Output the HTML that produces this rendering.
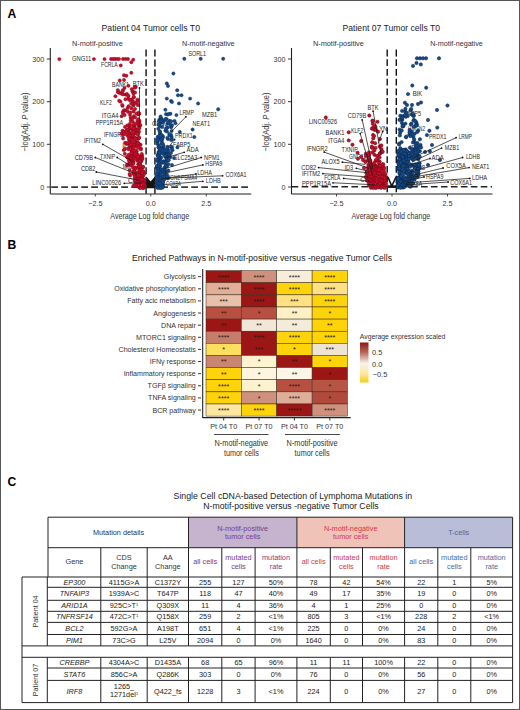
<!DOCTYPE html>
<html><head><meta charset="utf-8"><style>
html,body{margin:0;padding:0;background:#fff;}
svg{display:block;font-family:"Liberation Sans", sans-serif;}
</style></head><body>
<svg width="520" height="710" viewBox="0 0 520 710">
<rect x="0" y="0" width="520" height="710" fill="#fff"/>
<rect x="0.5" y="0.5" width="519" height="709" fill="none" stroke="#555" stroke-width="1" />
<text x="7.5" y="17.5" font-size="12.2" text-anchor="start" fill="#000" font-weight="bold" font-style="normal" >A</text>
<text x="7.5" y="248.5" font-size="12.2" text-anchor="start" fill="#000" font-weight="bold" font-style="normal" >B</text>
<text x="7.5" y="486.2" font-size="12.2" text-anchor="start" fill="#000" font-weight="bold" font-style="normal" >C</text>
<text x="150.75" y="30.6" font-size="8.8" text-anchor="middle" fill="#222" font-weight="normal" font-style="normal" textLength="98.5" lengthAdjust="spacingAndGlyphs" >Patient 04 Tumor cells T0</text>
<line x1="46.8" y1="59" x2="50.3" y2="59" stroke="#222" stroke-width="0.9" />
<text x="44.3" y="61.6" font-size="7.2" text-anchor="end" fill="#333" font-weight="normal" font-style="normal" >300</text>
<line x1="46.8" y1="101.7" x2="50.3" y2="101.7" stroke="#222" stroke-width="0.9" />
<text x="44.3" y="104.3" font-size="7.2" text-anchor="end" fill="#333" font-weight="normal" font-style="normal" >200</text>
<line x1="46.8" y1="144.3" x2="50.3" y2="144.3" stroke="#222" stroke-width="0.9" />
<text x="44.3" y="146.9" font-size="7.2" text-anchor="end" fill="#333" font-weight="normal" font-style="normal" >100</text>
<line x1="46.8" y1="187" x2="50.3" y2="187" stroke="#222" stroke-width="0.9" />
<text x="44.3" y="189.6" font-size="7.2" text-anchor="end" fill="#333" font-weight="normal" font-style="normal" >0</text>
<line x1="95.30000000000001" y1="194" x2="95.30000000000001" y2="196.5" stroke="#222" stroke-width="0.8" />
<text x="95.30000000000001" y="205.5" font-size="7.2" text-anchor="middle" fill="#333" font-weight="normal" font-style="normal" >−2.5</text>
<line x1="150.8" y1="194" x2="150.8" y2="196.5" stroke="#222" stroke-width="0.8" />
<text x="150.8" y="205.5" font-size="7.2" text-anchor="middle" fill="#333" font-weight="normal" font-style="normal" >0.0</text>
<line x1="206.3" y1="194" x2="206.3" y2="196.5" stroke="#222" stroke-width="0.8" />
<text x="206.3" y="205.5" font-size="7.2" text-anchor="middle" fill="#333" font-weight="normal" font-style="normal" >2.5</text>
<text x="149.70000000000002" y="219.2" font-size="9.8" text-anchor="middle" fill="#333" font-weight="normal" font-style="normal" textLength="78.8" lengthAdjust="spacingAndGlyphs" >Average Log fold change</text>
<text transform="translate(27.799999999999997,122) rotate(-90)" x="0" y="0" font-size="9.2" text-anchor="middle" fill="#333" textLength="59" lengthAdjust="spacingAndGlyphs">−log(Adj. <tspan font-style="italic">P</tspan> value)</text>
<text x="97.4" y="45.8" font-size="7.2" text-anchor="middle" fill="#333" font-weight="normal" font-style="normal" textLength="50.8" lengthAdjust="spacingAndGlyphs" >N-motif-positive</text>
<text x="208.3" y="45.8" font-size="7.2" text-anchor="middle" fill="#333" font-weight="normal" font-style="normal" textLength="52.6" lengthAdjust="spacingAndGlyphs" >N-motif-negative</text>
<line x1="146.1" y1="49.6" x2="146.1" y2="194" stroke="#3a3a3a" stroke-width="1.7" stroke-dasharray="7,2.8"/>
<line x1="154.9" y1="49.6" x2="154.9" y2="194" stroke="#3a3a3a" stroke-width="1.7" stroke-dasharray="7,2.8"/>
<line x1="51.2" y1="187.1" x2="251" y2="187.1" stroke="#3a3a3a" stroke-width="1.6" stroke-dasharray="6.8,3.2"/>
<text x="72.1" y="61.3" font-size="6.8" text-anchor="start" fill="#262626" font-weight="normal" font-style="normal" textLength="19.2" lengthAdjust="spacingAndGlyphs" >GNG11</text>
<text x="101" y="67.3" font-size="6.8" text-anchor="start" fill="#262626" font-weight="normal" font-style="normal" textLength="16.8" lengthAdjust="spacingAndGlyphs" >FCRLA</text>
<text x="112" y="87.2" font-size="6.8" text-anchor="start" fill="#262626" font-weight="normal" font-style="normal" textLength="17" lengthAdjust="spacingAndGlyphs" >BANK1</text>
<text x="132.7" y="85.6" font-size="6.8" text-anchor="start" fill="#262626" font-weight="normal" font-style="normal" textLength="11.1" lengthAdjust="spacingAndGlyphs" >BTK</text>
<text x="100.1" y="104.7" font-size="6.8" text-anchor="start" fill="#262626" font-weight="normal" font-style="normal" textLength="11.7" lengthAdjust="spacingAndGlyphs" >KLF2</text>
<text x="129" y="107" font-size="6.8" text-anchor="start" fill="#262626" font-weight="normal" font-style="normal" textLength="11" lengthAdjust="spacingAndGlyphs" >LYN</text>
<text x="101.7" y="117.8" font-size="6.8" text-anchor="start" fill="#262626" font-weight="normal" font-style="normal" textLength="16.8" lengthAdjust="spacingAndGlyphs" >ITGA4</text>
<text x="95.7" y="124.5" font-size="6.8" text-anchor="start" fill="#262626" font-weight="normal" font-style="normal" textLength="27.3" lengthAdjust="spacingAndGlyphs" >PPP1R15A</text>
<text x="104.1" y="137" font-size="6.8" text-anchor="start" fill="#262626" font-weight="normal" font-style="normal" textLength="20.2" lengthAdjust="spacingAndGlyphs" >IFNGR2</text>
<text x="84" y="142.8" font-size="6.8" text-anchor="start" fill="#262626" font-weight="normal" font-style="normal" textLength="17" lengthAdjust="spacingAndGlyphs" >IFITM2</text>
<text x="122.2" y="148.3" font-size="6.8" text-anchor="start" fill="#262626" font-weight="normal" font-style="normal" textLength="10.8" lengthAdjust="spacingAndGlyphs" >ID3</text>
<text x="74.8" y="159.5" font-size="6.8" text-anchor="start" fill="#262626" font-weight="normal" font-style="normal" textLength="18.2" lengthAdjust="spacingAndGlyphs" >CD79B</text>
<text x="100.1" y="158.6" font-size="6.8" text-anchor="start" fill="#262626" font-weight="normal" font-style="normal" textLength="15.1" lengthAdjust="spacingAndGlyphs" >TXNIP</text>
<text x="122.7" y="168.9" font-size="6.8" text-anchor="start" fill="#262626" font-weight="normal" font-style="normal" textLength="11.3" lengthAdjust="spacingAndGlyphs" >MX1</text>
<text x="80.9" y="171.2" font-size="6.8" text-anchor="start" fill="#262626" font-weight="normal" font-style="normal" textLength="14.4" lengthAdjust="spacingAndGlyphs" >CD82</text>
<text x="92.3" y="185.1" font-size="6.8" text-anchor="start" fill="#262626" font-weight="normal" font-style="normal" textLength="28.9" lengthAdjust="spacingAndGlyphs" >LINC00926</text>
<text x="128" y="183" font-size="6.8" text-anchor="start" fill="#262626" font-weight="normal" font-style="normal" textLength="17" lengthAdjust="spacingAndGlyphs" >CD52</text>
<text x="188.5" y="55.5" font-size="6.8" text-anchor="start" fill="#262626" font-weight="normal" font-style="normal" textLength="17.5" lengthAdjust="spacingAndGlyphs" >SORL1</text>
<text x="179.5" y="115.1" font-size="6.8" text-anchor="start" fill="#262626" font-weight="normal" font-style="normal" textLength="14.4" lengthAdjust="spacingAndGlyphs" >LRMP</text>
<text x="202" y="117.4" font-size="6.8" text-anchor="start" fill="#262626" font-weight="normal" font-style="normal" textLength="15.2" lengthAdjust="spacingAndGlyphs" >MZB1</text>
<text x="192.6" y="125.9" font-size="6.8" text-anchor="start" fill="#262626" font-weight="normal" font-style="normal" textLength="17.5" lengthAdjust="spacingAndGlyphs" >NEAT1</text>
<text x="152" y="125.5" font-size="6.8" text-anchor="start" fill="#262626" font-weight="normal" font-style="normal" textLength="16" lengthAdjust="spacingAndGlyphs" >CD52</text>
<text x="175.1" y="138.4" font-size="6.8" text-anchor="start" fill="#262626" font-weight="normal" font-style="normal" textLength="17.5" lengthAdjust="spacingAndGlyphs" >PRDX1</text>
<text x="173.1" y="146.7" font-size="6.8" text-anchor="start" fill="#262626" font-weight="normal" font-style="normal" textLength="17.2" lengthAdjust="spacingAndGlyphs" >FABP5</text>
<text x="186.5" y="152.4" font-size="6.8" text-anchor="start" fill="#262626" font-weight="normal" font-style="normal" textLength="12.1" lengthAdjust="spacingAndGlyphs" >ADA</text>
<text x="173.8" y="160.2" font-size="6.8" text-anchor="start" fill="#262626" font-weight="normal" font-style="normal" textLength="23.4" lengthAdjust="spacingAndGlyphs" >SLC25A3</text>
<text x="204.1" y="159.7" font-size="6.8" text-anchor="start" fill="#262626" font-weight="normal" font-style="normal" textLength="15.6" lengthAdjust="spacingAndGlyphs" >NPM1</text>
<text x="205.3" y="166.1" font-size="6.8" text-anchor="start" fill="#262626" font-weight="normal" font-style="normal" textLength="17.0" lengthAdjust="spacingAndGlyphs" >HSPA9</text>
<text x="197.2" y="175.3" font-size="6.8" text-anchor="start" fill="#262626" font-weight="normal" font-style="normal" textLength="14.7" lengthAdjust="spacingAndGlyphs" >LDHA</text>
<text x="225.4" y="176.5" font-size="6.8" text-anchor="start" fill="#262626" font-weight="normal" font-style="normal" textLength="21.1" lengthAdjust="spacingAndGlyphs" >COX6A1</text>
<text x="205.8" y="183.1" font-size="6.8" text-anchor="start" fill="#262626" font-weight="normal" font-style="normal" textLength="14.8" lengthAdjust="spacingAndGlyphs" >LDHB</text>
<text x="163" y="180" font-size="6.8" text-anchor="start" fill="#262626" font-weight="normal" font-style="normal" textLength="17" lengthAdjust="spacingAndGlyphs" >HMGN2</text>
<text x="181" y="180" font-size="6.8" text-anchor="start" fill="#262626" font-weight="normal" font-style="normal" textLength="16.2" lengthAdjust="spacingAndGlyphs" >PSMA4</text>
<text x="166" y="185.5" font-size="6.8" text-anchor="start" fill="#262626" font-weight="normal" font-style="normal" textLength="14.8" lengthAdjust="spacingAndGlyphs" >COX8A</text>
<g fill="#c80e28" stroke="#6a0a18" stroke-width="0.4" stroke-opacity="0.8"><circle cx="138.2" cy="114.4" r="1.70"/><circle cx="137.5" cy="100.7" r="1.70"/><circle cx="133.5" cy="105.5" r="1.70"/><circle cx="132.9" cy="125.6" r="1.70"/><circle cx="134.4" cy="126.4" r="1.70"/><circle cx="139.9" cy="125.1" r="1.70"/><circle cx="124.0" cy="110.2" r="1.70"/><circle cx="137.8" cy="122.8" r="1.70"/><circle cx="120.4" cy="101.6" r="1.70"/><circle cx="132.7" cy="103.8" r="1.70"/><circle cx="135.8" cy="87.0" r="1.70"/><circle cx="133.1" cy="91.9" r="1.70"/><circle cx="139.3" cy="121.9" r="1.70"/><circle cx="124.6" cy="115.0" r="1.70"/><circle cx="130.7" cy="120.4" r="1.70"/><circle cx="132.9" cy="101.2" r="1.70"/><circle cx="138.1" cy="105.0" r="1.70"/><circle cx="138.3" cy="125.5" r="1.70"/><circle cx="131.6" cy="99.4" r="1.70"/><circle cx="130.0" cy="114.8" r="1.70"/><circle cx="135.1" cy="109.0" r="1.70"/><circle cx="125.3" cy="94.6" r="1.70"/><circle cx="130.6" cy="117.7" r="1.70"/><circle cx="122.5" cy="105.9" r="1.70"/><circle cx="133.9" cy="97.4" r="1.70"/><circle cx="134.9" cy="86.8" r="1.70"/><circle cx="125.7" cy="110.4" r="1.70"/><circle cx="132.8" cy="121.6" r="1.70"/><circle cx="129.5" cy="126.4" r="1.70"/><circle cx="128.2" cy="95.9" r="1.70"/><circle cx="132.5" cy="91.2" r="1.70"/><circle cx="128.2" cy="98.8" r="1.70"/><circle cx="131.5" cy="103.6" r="1.70"/><circle cx="119.3" cy="92.7" r="1.70"/><circle cx="127.6" cy="108.1" r="1.70"/><circle cx="128.7" cy="125.5" r="1.70"/><circle cx="119.2" cy="100.8" r="1.70"/><circle cx="133.4" cy="93.5" r="1.70"/><circle cx="127.8" cy="111.8" r="1.70"/><circle cx="133.9" cy="127.1" r="1.70"/><circle cx="139.3" cy="120.9" r="1.70"/><circle cx="127.2" cy="125.5" r="1.70"/><circle cx="137.4" cy="122.6" r="1.70"/><circle cx="123.0" cy="111.6" r="1.70"/><circle cx="133.9" cy="124.6" r="1.70"/><circle cx="122.2" cy="104.9" r="1.70"/><circle cx="121.4" cy="93.6" r="1.70"/><circle cx="133.8" cy="116.3" r="1.70"/><circle cx="122.8" cy="112.9" r="1.70"/><circle cx="134.6" cy="87.8" r="1.70"/><circle cx="137.5" cy="120.6" r="1.70"/><circle cx="132.5" cy="118.2" r="1.70"/><circle cx="135.1" cy="103.3" r="1.70"/><circle cx="134.9" cy="127.8" r="1.70"/><circle cx="130.2" cy="112.5" r="1.70"/><circle cx="124.5" cy="88.0" r="1.70"/><circle cx="128.5" cy="106.3" r="1.70"/><circle cx="137.5" cy="99.6" r="1.70"/><circle cx="122.8" cy="90.2" r="1.70"/><circle cx="122.6" cy="91.3" r="1.70"/><circle cx="133.5" cy="111.5" r="1.70"/><circle cx="130.0" cy="123.7" r="1.70"/><circle cx="140.2" cy="125.4" r="1.70"/><circle cx="138.5" cy="119.2" r="1.70"/><circle cx="139.4" cy="113.7" r="1.70"/><circle cx="139.4" cy="128.0" r="1.70"/><circle cx="135.5" cy="123.7" r="1.70"/><circle cx="124.9" cy="126.9" r="1.70"/><circle cx="136.7" cy="102.2" r="1.70"/><circle cx="135.2" cy="117.4" r="1.70"/><circle cx="138.4" cy="112.7" r="1.70"/><circle cx="118.1" cy="92.3" r="1.70"/><circle cx="131.5" cy="108.4" r="1.70"/><circle cx="139.7" cy="124.4" r="1.70"/><circle cx="136.3" cy="113.6" r="1.70"/><circle cx="138.7" cy="138.3" r="1.70"/><circle cx="138.0" cy="186.6" r="1.70"/><circle cx="141.0" cy="156.3" r="1.70"/><circle cx="141.9" cy="155.4" r="1.70"/><circle cx="131.2" cy="156.3" r="1.70"/><circle cx="132.6" cy="136.2" r="1.70"/><circle cx="140.9" cy="172.3" r="1.70"/><circle cx="137.7" cy="178.0" r="1.70"/><circle cx="133.8" cy="156.0" r="1.70"/><circle cx="141.6" cy="168.2" r="1.70"/><circle cx="129.1" cy="139.3" r="1.70"/><circle cx="131.3" cy="136.8" r="1.70"/><circle cx="132.3" cy="138.9" r="1.70"/><circle cx="139.7" cy="174.4" r="1.70"/><circle cx="143.0" cy="166.7" r="1.70"/><circle cx="143.7" cy="186.3" r="1.70"/><circle cx="137.5" cy="172.4" r="1.70"/><circle cx="135.3" cy="130.6" r="1.70"/><circle cx="128.5" cy="131.8" r="1.70"/><circle cx="136.2" cy="130.7" r="1.70"/><circle cx="142.6" cy="174.8" r="1.70"/><circle cx="143.0" cy="176.2" r="1.70"/><circle cx="131.4" cy="150.6" r="1.70"/><circle cx="135.3" cy="137.6" r="1.70"/><circle cx="132.6" cy="148.8" r="1.70"/><circle cx="139.8" cy="182.9" r="1.70"/><circle cx="131.3" cy="133.4" r="1.70"/><circle cx="135.9" cy="143.0" r="1.70"/><circle cx="137.3" cy="177.3" r="1.70"/><circle cx="135.5" cy="168.0" r="1.70"/><circle cx="135.8" cy="129.7" r="1.70"/><circle cx="133.0" cy="163.9" r="1.70"/><circle cx="139.3" cy="144.5" r="1.70"/><circle cx="144.0" cy="180.4" r="1.70"/><circle cx="131.0" cy="133.7" r="1.70"/><circle cx="137.3" cy="179.2" r="1.70"/><circle cx="132.6" cy="129.2" r="1.70"/><circle cx="138.2" cy="167.0" r="1.70"/><circle cx="145.0" cy="180.1" r="1.70"/><circle cx="132.8" cy="129.7" r="1.70"/><circle cx="131.8" cy="156.4" r="1.70"/><circle cx="133.5" cy="162.0" r="1.70"/><circle cx="138.2" cy="138.4" r="1.70"/><circle cx="141.7" cy="172.9" r="1.70"/><circle cx="138.9" cy="173.6" r="1.70"/><circle cx="140.4" cy="172.4" r="1.70"/><circle cx="136.6" cy="180.1" r="1.70"/><circle cx="139.1" cy="166.8" r="1.70"/><circle cx="131.7" cy="153.0" r="1.70"/><circle cx="133.1" cy="162.8" r="1.70"/><circle cx="137.1" cy="157.9" r="1.70"/><circle cx="142.1" cy="156.6" r="1.70"/><circle cx="141.2" cy="161.6" r="1.70"/><circle cx="139.7" cy="187.8" r="1.70"/><circle cx="140.7" cy="177.7" r="1.70"/><circle cx="135.1" cy="144.5" r="1.70"/><circle cx="138.7" cy="168.4" r="1.70"/><circle cx="133.6" cy="154.7" r="1.70"/><circle cx="140.6" cy="181.6" r="1.70"/><circle cx="141.9" cy="173.1" r="1.70"/><circle cx="135.3" cy="141.7" r="1.70"/><circle cx="133.8" cy="154.3" r="1.70"/><circle cx="135.5" cy="133.3" r="1.70"/><circle cx="136.6" cy="151.2" r="1.70"/><circle cx="135.1" cy="157.3" r="1.70"/><circle cx="137.5" cy="160.9" r="1.70"/><circle cx="132.2" cy="159.3" r="1.70"/><circle cx="131.3" cy="146.0" r="1.70"/><circle cx="137.4" cy="131.5" r="1.70"/><circle cx="131.4" cy="154.4" r="1.70"/><circle cx="138.9" cy="137.6" r="1.70"/><circle cx="141.5" cy="180.7" r="1.70"/><circle cx="143.7" cy="183.6" r="1.70"/><circle cx="139.9" cy="183.6" r="1.70"/><circle cx="130.4" cy="141.0" r="1.70"/><circle cx="138.4" cy="178.7" r="1.70"/><circle cx="140.2" cy="148.4" r="1.70"/><circle cx="129.0" cy="135.0" r="1.70"/><circle cx="135.0" cy="174.8" r="1.70"/><circle cx="138.4" cy="164.1" r="1.70"/><circle cx="130.3" cy="128.6" r="1.70"/><circle cx="141.3" cy="178.3" r="1.70"/><circle cx="139.2" cy="157.1" r="1.70"/><circle cx="142.0" cy="176.3" r="1.70"/><circle cx="140.6" cy="144.7" r="1.70"/><circle cx="137.8" cy="154.8" r="1.70"/><circle cx="143.4" cy="186.9" r="1.70"/><circle cx="136.4" cy="150.6" r="1.70"/><circle cx="136.9" cy="184.1" r="1.70"/><circle cx="129.4" cy="140.7" r="1.70"/><circle cx="143.3" cy="181.7" r="1.70"/><circle cx="139.4" cy="185.6" r="1.70"/><circle cx="142.9" cy="171.8" r="1.70"/><circle cx="133.2" cy="162.7" r="1.70"/><circle cx="137.8" cy="138.9" r="1.70"/><circle cx="136.2" cy="179.0" r="1.70"/><circle cx="134.5" cy="153.8" r="1.70"/><circle cx="144.9" cy="182.6" r="1.70"/><circle cx="136.9" cy="146.7" r="1.70"/><circle cx="137.3" cy="183.7" r="1.70"/><circle cx="132.7" cy="149.9" r="1.70"/><circle cx="137.9" cy="183.0" r="1.70"/><circle cx="138.1" cy="184.0" r="1.70"/><circle cx="139.6" cy="160.8" r="1.70"/><circle cx="131.7" cy="154.8" r="1.70"/><circle cx="142.9" cy="171.9" r="1.70"/><circle cx="140.1" cy="156.4" r="1.70"/><circle cx="144.1" cy="181.4" r="1.70"/><circle cx="144.1" cy="185.0" r="1.70"/><circle cx="141.0" cy="169.3" r="1.70"/><circle cx="137.8" cy="142.4" r="1.70"/><circle cx="140.9" cy="158.0" r="1.70"/><circle cx="143.1" cy="167.2" r="1.70"/><circle cx="143.9" cy="173.0" r="1.70"/><circle cx="135.1" cy="144.0" r="1.70"/><circle cx="140.5" cy="176.6" r="1.70"/><circle cx="138.9" cy="131.9" r="1.70"/><circle cx="135.9" cy="138.9" r="1.70"/><circle cx="133.4" cy="158.3" r="1.70"/><circle cx="138.3" cy="164.4" r="1.70"/><circle cx="129.9" cy="146.7" r="1.70"/><circle cx="135.0" cy="167.4" r="1.70"/><circle cx="134.3" cy="145.6" r="1.70"/><circle cx="139.9" cy="163.7" r="1.70"/><circle cx="144.6" cy="184.7" r="1.70"/><circle cx="139.3" cy="183.8" r="1.70"/><circle cx="142.8" cy="172.7" r="1.70"/><circle cx="138.1" cy="182.9" r="1.70"/><circle cx="132.9" cy="135.8" r="1.70"/><circle cx="141.8" cy="171.1" r="1.70"/><circle cx="139.6" cy="170.4" r="1.70"/><circle cx="141.2" cy="178.5" r="1.70"/><circle cx="134.4" cy="172.2" r="1.70"/><circle cx="134.0" cy="129.6" r="1.70"/><circle cx="134.6" cy="173.3" r="1.70"/><circle cx="140.5" cy="169.4" r="1.70"/><circle cx="143.1" cy="187.9" r="1.70"/><circle cx="137.6" cy="159.5" r="1.70"/><circle cx="140.1" cy="175.9" r="1.70"/><circle cx="143.9" cy="187.7" r="1.70"/><circle cx="142.2" cy="182.6" r="1.70"/><circle cx="145.3" cy="185.5" r="1.70"/><circle cx="141.7" cy="169.7" r="1.70"/><circle cx="136.5" cy="152.9" r="1.70"/><circle cx="133.7" cy="143.0" r="1.70"/><circle cx="131.1" cy="145.0" r="1.70"/><circle cx="140.2" cy="164.6" r="1.70"/><circle cx="138.4" cy="128.9" r="1.70"/><circle cx="134.1" cy="144.6" r="1.70"/><circle cx="138.8" cy="185.4" r="1.70"/><circle cx="133.4" cy="134.5" r="1.70"/><circle cx="131.9" cy="144.0" r="1.70"/><circle cx="140.6" cy="179.6" r="1.70"/><circle cx="133.3" cy="157.7" r="1.70"/><circle cx="131.2" cy="139.7" r="1.70"/><circle cx="131.9" cy="153.0" r="1.70"/><circle cx="133.7" cy="147.0" r="1.70"/><circle cx="144.0" cy="174.2" r="1.70"/><circle cx="142.2" cy="180.0" r="1.70"/><circle cx="137.8" cy="181.7" r="1.70"/><circle cx="135.5" cy="154.5" r="1.70"/><circle cx="134.3" cy="150.4" r="1.70"/><circle cx="142.4" cy="158.6" r="1.70"/><circle cx="132.2" cy="140.1" r="1.70"/><circle cx="137.0" cy="157.8" r="1.70"/><circle cx="140.8" cy="148.4" r="1.70"/><circle cx="138.4" cy="143.8" r="1.70"/><circle cx="143.5" cy="183.5" r="1.70"/><circle cx="139.0" cy="144.2" r="1.70"/><circle cx="129.7" cy="143.6" r="1.70"/><circle cx="138.8" cy="158.4" r="1.70"/><circle cx="135.4" cy="159.3" r="1.70"/><circle cx="134.1" cy="142.0" r="1.70"/><circle cx="140.9" cy="149.4" r="1.70"/><circle cx="143.0" cy="179.2" r="1.70"/><circle cx="137.8" cy="143.4" r="1.70"/><circle cx="141.8" cy="153.9" r="1.70"/><circle cx="143.5" cy="184.4" r="1.70"/><circle cx="133.8" cy="147.7" r="1.70"/><circle cx="138.5" cy="147.5" r="1.70"/><circle cx="137.8" cy="157.0" r="1.70"/><circle cx="141.7" cy="160.0" r="1.70"/><circle cx="138.1" cy="134.4" r="1.70"/><circle cx="129.0" cy="129.3" r="1.70"/><circle cx="142.4" cy="186.9" r="1.70"/><circle cx="129.3" cy="138.8" r="1.70"/><circle cx="140.4" cy="161.0" r="1.70"/><circle cx="135.2" cy="175.4" r="1.70"/><circle cx="139.2" cy="175.4" r="1.70"/><circle cx="140.5" cy="179.5" r="1.70"/><circle cx="138.6" cy="130.8" r="1.70"/><circle cx="135.0" cy="138.8" r="1.70"/><circle cx="132.4" cy="134.8" r="1.70"/><circle cx="135.5" cy="174.1" r="1.70"/><circle cx="142.3" cy="158.8" r="1.70"/><circle cx="142.3" cy="187.8" r="1.70"/><circle cx="140.0" cy="161.0" r="1.70"/><circle cx="142.3" cy="179.6" r="1.70"/><circle cx="135.2" cy="169.0" r="1.70"/><circle cx="140.2" cy="187.9" r="1.70"/><circle cx="139.0" cy="137.7" r="1.70"/><circle cx="132.1" cy="132.4" r="1.70"/><circle cx="137.2" cy="133.9" r="1.70"/><circle cx="139.7" cy="165.7" r="1.70"/><circle cx="133.4" cy="128.1" r="1.70"/><circle cx="139.4" cy="166.4" r="1.70"/><circle cx="143.5" cy="171.5" r="1.70"/><circle cx="137.9" cy="181.9" r="1.70"/><circle cx="134.4" cy="170.9" r="1.70"/><circle cx="141.9" cy="173.0" r="1.70"/><circle cx="130.7" cy="157.3" r="1.70"/><circle cx="127.2" cy="165.6" r="1.70"/><circle cx="123.1" cy="134.9" r="1.70"/><circle cx="123.7" cy="150.1" r="1.70"/><circle cx="124.9" cy="131.6" r="1.70"/><circle cx="130.1" cy="144.8" r="1.70"/><circle cx="126.9" cy="144.1" r="1.70"/><circle cx="125.2" cy="142.8" r="1.70"/><circle cx="133.9" cy="170.8" r="1.70"/><circle cx="128.4" cy="132.4" r="1.70"/><circle cx="130.0" cy="159.7" r="1.70"/><circle cx="129.6" cy="170.1" r="1.70"/><circle cx="127.0" cy="129.4" r="1.70"/><circle cx="128.5" cy="148.6" r="1.70"/><circle cx="128.7" cy="154.6" r="1.70"/><circle cx="134.9" cy="178.0" r="1.70"/><circle cx="130.1" cy="175.5" r="1.70"/><circle cx="130.6" cy="158.2" r="1.70"/><circle cx="121.5" cy="133.6" r="1.70"/><circle cx="131.7" cy="161.0" r="1.70"/><circle cx="134.9" cy="176.5" r="1.70"/><circle cx="133.1" cy="167.5" r="1.70"/><circle cx="133.3" cy="173.7" r="1.70"/><circle cx="124.8" cy="153.8" r="1.70"/><circle cx="127.1" cy="143.0" r="1.70"/><circle cx="129.5" cy="163.2" r="1.70"/><circle cx="131.1" cy="165.4" r="1.70"/><circle cx="135.7" cy="184.3" r="1.70"/><circle cx="128.2" cy="129.9" r="1.70"/><circle cx="127.6" cy="157.8" r="1.70"/><circle cx="128.0" cy="136.2" r="1.70"/><circle cx="132.9" cy="171.7" r="1.70"/><circle cx="130.2" cy="164.0" r="1.70"/><circle cx="122.5" cy="130.8" r="1.70"/><circle cx="129.5" cy="135.6" r="1.70"/><circle cx="133.9" cy="186.1" r="1.70"/><circle cx="125.8" cy="134.3" r="1.70"/><circle cx="131.4" cy="152.8" r="1.70"/><circle cx="127.1" cy="164.5" r="1.70"/><circle cx="123.1" cy="138.5" r="1.70"/><circle cx="127.2" cy="129.7" r="1.70"/><circle cx="135.7" cy="181.5" r="1.70"/><circle cx="127.0" cy="156.7" r="1.70"/><circle cx="123.5" cy="131.5" r="1.70"/><circle cx="124.8" cy="149.2" r="1.70"/><circle cx="128.8" cy="160.6" r="1.70"/><circle cx="133.5" cy="185.6" r="1.70"/><circle cx="129.6" cy="174.0" r="1.70"/><circle cx="128.5" cy="149.3" r="1.70"/><circle cx="134.9" cy="180.3" r="1.70"/><circle cx="59.3" cy="59.1" r="1.70"/><circle cx="93.9" cy="59.1" r="1.70"/><circle cx="104.5" cy="59.1" r="1.70"/><circle cx="111.0" cy="59.0" r="1.70"/><circle cx="113.0" cy="59.0" r="1.70"/><circle cx="115.0" cy="59.0" r="1.70"/><circle cx="117.0" cy="59.0" r="1.70"/><circle cx="119.0" cy="59.0" r="1.70"/><circle cx="123.0" cy="59.0" r="1.70"/><circle cx="125.5" cy="59.0" r="1.70"/><circle cx="128.0" cy="59.0" r="1.70"/><circle cx="133.2" cy="59.8" r="1.70"/><circle cx="131.3" cy="62.2" r="1.70"/><circle cx="120.7" cy="65.4" r="1.70"/><circle cx="131.3" cy="72.8" r="1.70"/><circle cx="124.0" cy="75.2" r="1.70"/><circle cx="126.4" cy="75.7" r="1.70"/><circle cx="119.7" cy="80.5" r="1.70"/><circle cx="124.0" cy="80.0" r="1.70"/><circle cx="128.4" cy="85.8" r="1.70"/><circle cx="131.7" cy="89.1" r="1.70"/><circle cx="117.8" cy="90.1" r="1.70"/><circle cx="118.3" cy="92.0" r="1.70"/><circle cx="135.1" cy="92.5" r="1.70"/><circle cx="115.4" cy="96.3" r="1.70"/><circle cx="123.0" cy="94.4" r="1.70"/><circle cx="126.9" cy="94.0" r="1.70"/><circle cx="128.4" cy="95.9" r="1.70"/><circle cx="133.7" cy="96.8" r="1.70"/><circle cx="125.5" cy="99.2" r="1.70"/><circle cx="129.8" cy="100.2" r="1.70"/><circle cx="121.6" cy="116.2" r="1.70"/></g>
<g fill="#164a88" stroke="#0a2548" stroke-width="0.4" stroke-opacity="0.8"><circle cx="167.1" cy="127.8" r="1.70"/><circle cx="157.7" cy="142.0" r="1.70"/><circle cx="165.4" cy="130.8" r="1.70"/><circle cx="159.9" cy="134.5" r="1.70"/><circle cx="158.3" cy="128.8" r="1.70"/><circle cx="163.1" cy="136.9" r="1.70"/><circle cx="165.8" cy="119.1" r="1.70"/><circle cx="163.6" cy="121.1" r="1.70"/><circle cx="159.9" cy="138.7" r="1.70"/><circle cx="166.7" cy="119.1" r="1.70"/><circle cx="157.7" cy="136.7" r="1.70"/><circle cx="167.0" cy="131.5" r="1.70"/><circle cx="160.4" cy="133.7" r="1.70"/><circle cx="170.9" cy="127.0" r="1.70"/><circle cx="157.7" cy="138.9" r="1.70"/><circle cx="162.6" cy="135.9" r="1.70"/><circle cx="160.1" cy="126.6" r="1.70"/><circle cx="167.5" cy="123.5" r="1.70"/><circle cx="159.9" cy="131.4" r="1.70"/><circle cx="161.6" cy="118.8" r="1.70"/><circle cx="160.6" cy="122.9" r="1.70"/><circle cx="168.0" cy="139.0" r="1.70"/><circle cx="171.7" cy="137.0" r="1.70"/><circle cx="159.7" cy="131.6" r="1.70"/><circle cx="162.3" cy="139.0" r="1.70"/><circle cx="171.4" cy="127.0" r="1.70"/><circle cx="161.8" cy="141.0" r="1.70"/><circle cx="171.9" cy="139.3" r="1.70"/><circle cx="157.6" cy="141.2" r="1.70"/><circle cx="161.6" cy="143.4" r="1.70"/><circle cx="169.5" cy="120.7" r="1.70"/><circle cx="172.0" cy="125.2" r="1.70"/><circle cx="161.8" cy="119.8" r="1.70"/><circle cx="171.1" cy="140.0" r="1.70"/><circle cx="158.7" cy="124.8" r="1.70"/><circle cx="162.3" cy="127.1" r="1.70"/><circle cx="161.3" cy="134.9" r="1.70"/><circle cx="157.4" cy="140.4" r="1.70"/><circle cx="161.4" cy="137.4" r="1.70"/><circle cx="159.7" cy="119.2" r="1.70"/><circle cx="160.5" cy="119.0" r="1.70"/><circle cx="169.4" cy="135.4" r="1.70"/><circle cx="163.0" cy="122.8" r="1.70"/><circle cx="162.8" cy="143.7" r="1.70"/><circle cx="171.2" cy="134.9" r="1.70"/><circle cx="161.4" cy="139.8" r="1.70"/><circle cx="158.9" cy="120.8" r="1.70"/><circle cx="169.3" cy="133.9" r="1.70"/><circle cx="158.8" cy="124.3" r="1.70"/><circle cx="157.5" cy="144.1" r="1.70"/><circle cx="161.0" cy="120.2" r="1.70"/><circle cx="170.2" cy="124.8" r="1.70"/><circle cx="160.5" cy="135.8" r="1.70"/><circle cx="165.5" cy="119.1" r="1.70"/><circle cx="167.3" cy="137.9" r="1.70"/><circle cx="158.1" cy="174.4" r="1.70"/><circle cx="160.4" cy="187.8" r="1.70"/><circle cx="163.8" cy="148.6" r="1.70"/><circle cx="158.4" cy="147.4" r="1.70"/><circle cx="159.5" cy="177.9" r="1.70"/><circle cx="167.5" cy="146.9" r="1.70"/><circle cx="158.2" cy="171.4" r="1.70"/><circle cx="160.6" cy="169.5" r="1.70"/><circle cx="159.5" cy="148.1" r="1.70"/><circle cx="164.8" cy="153.5" r="1.70"/><circle cx="165.3" cy="152.6" r="1.70"/><circle cx="159.7" cy="161.9" r="1.70"/><circle cx="158.9" cy="174.3" r="1.70"/><circle cx="158.1" cy="154.4" r="1.70"/><circle cx="161.7" cy="179.5" r="1.70"/><circle cx="156.5" cy="177.4" r="1.70"/><circle cx="159.2" cy="186.5" r="1.70"/><circle cx="165.0" cy="174.0" r="1.70"/><circle cx="167.9" cy="150.0" r="1.70"/><circle cx="156.6" cy="176.6" r="1.70"/><circle cx="159.1" cy="183.9" r="1.70"/><circle cx="161.3" cy="157.5" r="1.70"/><circle cx="159.0" cy="177.9" r="1.70"/><circle cx="163.7" cy="161.3" r="1.70"/><circle cx="166.1" cy="155.8" r="1.70"/><circle cx="157.9" cy="159.4" r="1.70"/><circle cx="160.2" cy="151.8" r="1.70"/><circle cx="160.0" cy="163.6" r="1.70"/><circle cx="158.9" cy="156.3" r="1.70"/><circle cx="157.7" cy="177.4" r="1.70"/><circle cx="162.5" cy="181.4" r="1.70"/><circle cx="159.6" cy="163.1" r="1.70"/><circle cx="165.7" cy="171.0" r="1.70"/><circle cx="158.4" cy="166.2" r="1.70"/><circle cx="163.9" cy="153.2" r="1.70"/><circle cx="159.1" cy="145.4" r="1.70"/><circle cx="164.4" cy="167.6" r="1.70"/><circle cx="167.0" cy="151.9" r="1.70"/><circle cx="157.6" cy="186.3" r="1.70"/><circle cx="157.1" cy="182.9" r="1.70"/><circle cx="163.4" cy="146.2" r="1.70"/><circle cx="161.2" cy="148.0" r="1.70"/><circle cx="161.8" cy="150.8" r="1.70"/><circle cx="162.4" cy="176.8" r="1.70"/><circle cx="158.9" cy="147.3" r="1.70"/><circle cx="162.9" cy="162.4" r="1.70"/><circle cx="158.6" cy="178.6" r="1.70"/><circle cx="157.3" cy="181.9" r="1.70"/><circle cx="160.7" cy="177.0" r="1.70"/><circle cx="158.6" cy="160.0" r="1.70"/><circle cx="157.7" cy="187.5" r="1.70"/><circle cx="158.6" cy="158.8" r="1.70"/><circle cx="157.5" cy="174.6" r="1.70"/><circle cx="162.7" cy="153.8" r="1.70"/><circle cx="156.6" cy="185.3" r="1.70"/><circle cx="161.0" cy="171.0" r="1.70"/><circle cx="157.6" cy="160.5" r="1.70"/><circle cx="161.0" cy="181.0" r="1.70"/><circle cx="158.5" cy="170.4" r="1.70"/><circle cx="164.6" cy="174.8" r="1.70"/><circle cx="160.7" cy="174.6" r="1.70"/><circle cx="159.5" cy="172.6" r="1.70"/><circle cx="168.0" cy="150.8" r="1.70"/><circle cx="157.7" cy="172.4" r="1.70"/><circle cx="158.9" cy="156.7" r="1.70"/><circle cx="161.4" cy="187.7" r="1.70"/><circle cx="164.0" cy="169.8" r="1.70"/><circle cx="164.6" cy="170.5" r="1.70"/><circle cx="157.7" cy="168.2" r="1.70"/><circle cx="159.1" cy="187.4" r="1.70"/><circle cx="166.7" cy="160.5" r="1.70"/><circle cx="160.0" cy="184.2" r="1.70"/><circle cx="160.4" cy="172.1" r="1.70"/><circle cx="157.8" cy="181.7" r="1.70"/><circle cx="166.0" cy="165.6" r="1.70"/><circle cx="159.1" cy="183.3" r="1.70"/><circle cx="167.6" cy="153.4" r="1.70"/><circle cx="156.8" cy="179.5" r="1.70"/><circle cx="167.7" cy="147.4" r="1.70"/><circle cx="156.9" cy="167.2" r="1.70"/><circle cx="161.3" cy="148.2" r="1.70"/><circle cx="163.7" cy="149.1" r="1.70"/><circle cx="158.9" cy="152.5" r="1.70"/><circle cx="159.3" cy="154.2" r="1.70"/><circle cx="164.2" cy="170.6" r="1.70"/><circle cx="159.1" cy="152.3" r="1.70"/><circle cx="158.9" cy="178.6" r="1.70"/><circle cx="159.9" cy="165.7" r="1.70"/><circle cx="157.5" cy="182.7" r="1.70"/><circle cx="166.7" cy="156.8" r="1.70"/><circle cx="159.3" cy="186.2" r="1.70"/><circle cx="157.7" cy="155.4" r="1.70"/><circle cx="158.6" cy="152.0" r="1.70"/><circle cx="162.1" cy="162.2" r="1.70"/><circle cx="159.6" cy="161.0" r="1.70"/><circle cx="161.5" cy="169.9" r="1.70"/><circle cx="162.3" cy="169.7" r="1.70"/><circle cx="160.1" cy="168.8" r="1.70"/><circle cx="159.6" cy="187.0" r="1.70"/><circle cx="158.4" cy="167.0" r="1.70"/><circle cx="165.3" cy="155.2" r="1.70"/><circle cx="157.8" cy="168.3" r="1.70"/><circle cx="157.3" cy="167.7" r="1.70"/><circle cx="158.8" cy="182.5" r="1.70"/><circle cx="158.7" cy="184.1" r="1.70"/><circle cx="156.9" cy="166.1" r="1.70"/><circle cx="157.5" cy="160.6" r="1.70"/><circle cx="165.2" cy="156.5" r="1.70"/><circle cx="157.0" cy="166.0" r="1.70"/><circle cx="159.8" cy="166.3" r="1.70"/><circle cx="159.2" cy="147.1" r="1.70"/><circle cx="168.0" cy="151.1" r="1.70"/><circle cx="165.7" cy="156.5" r="1.70"/><circle cx="163.8" cy="179.7" r="1.70"/><circle cx="166.1" cy="166.8" r="1.70"/><circle cx="159.3" cy="148.6" r="1.70"/><circle cx="167.1" cy="154.1" r="1.70"/><circle cx="158.0" cy="185.2" r="1.70"/><circle cx="158.6" cy="155.5" r="1.70"/><circle cx="160.2" cy="149.4" r="1.70"/><circle cx="158.7" cy="152.9" r="1.70"/><circle cx="165.8" cy="166.4" r="1.70"/><circle cx="157.8" cy="179.0" r="1.70"/><circle cx="159.2" cy="166.2" r="1.70"/><circle cx="157.0" cy="186.4" r="1.70"/><circle cx="163.0" cy="181.1" r="1.70"/><circle cx="166.6" cy="158.8" r="1.70"/><circle cx="161.8" cy="180.7" r="1.70"/><circle cx="159.4" cy="183.1" r="1.70"/><circle cx="160.2" cy="160.6" r="1.70"/><circle cx="162.9" cy="150.5" r="1.70"/><circle cx="165.9" cy="163.1" r="1.70"/><circle cx="163.0" cy="183.5" r="1.70"/><circle cx="160.5" cy="160.9" r="1.70"/><circle cx="159.7" cy="153.7" r="1.70"/><circle cx="163.4" cy="145.4" r="1.70"/><circle cx="163.0" cy="172.5" r="1.70"/><circle cx="157.7" cy="169.0" r="1.70"/><circle cx="157.7" cy="156.0" r="1.70"/><circle cx="159.7" cy="152.7" r="1.70"/><circle cx="167.7" cy="160.5" r="1.70"/><circle cx="163.3" cy="162.8" r="1.70"/><circle cx="156.2" cy="174.6" r="1.70"/><circle cx="156.8" cy="186.5" r="1.70"/><circle cx="160.9" cy="161.5" r="1.70"/><circle cx="165.6" cy="166.0" r="1.70"/><circle cx="157.4" cy="182.3" r="1.70"/><circle cx="157.1" cy="159.9" r="1.70"/><circle cx="157.9" cy="187.9" r="1.70"/><circle cx="158.2" cy="183.4" r="1.70"/><circle cx="160.4" cy="178.4" r="1.70"/><circle cx="158.4" cy="162.7" r="1.70"/><circle cx="161.4" cy="161.2" r="1.70"/><circle cx="162.8" cy="182.2" r="1.70"/><circle cx="157.0" cy="177.5" r="1.70"/><circle cx="160.1" cy="183.9" r="1.70"/><circle cx="165.4" cy="150.5" r="1.70"/><circle cx="158.3" cy="170.7" r="1.70"/><circle cx="159.7" cy="187.5" r="1.70"/><circle cx="159.8" cy="163.8" r="1.70"/><circle cx="168.7" cy="160.2" r="1.70"/><circle cx="167.7" cy="147.7" r="1.70"/><circle cx="162.9" cy="177.3" r="1.70"/><circle cx="163.2" cy="186.1" r="1.70"/><circle cx="168.4" cy="170.5" r="1.70"/><circle cx="161.9" cy="185.5" r="1.70"/><circle cx="162.8" cy="187.5" r="1.70"/><circle cx="171.8" cy="147.5" r="1.70"/><circle cx="164.2" cy="179.4" r="1.70"/><circle cx="166.9" cy="166.2" r="1.70"/><circle cx="171.0" cy="153.0" r="1.70"/><circle cx="167.1" cy="174.7" r="1.70"/><circle cx="161.1" cy="185.9" r="1.70"/><circle cx="167.4" cy="154.3" r="1.70"/><circle cx="161.0" cy="187.7" r="1.70"/><circle cx="168.9" cy="156.0" r="1.70"/><circle cx="169.0" cy="156.1" r="1.70"/><circle cx="167.5" cy="178.3" r="1.70"/><circle cx="167.9" cy="178.0" r="1.70"/><circle cx="164.6" cy="173.6" r="1.70"/><circle cx="166.3" cy="158.1" r="1.70"/><circle cx="170.1" cy="157.4" r="1.70"/><circle cx="168.4" cy="164.2" r="1.70"/><circle cx="168.7" cy="154.1" r="1.70"/><circle cx="164.6" cy="176.6" r="1.70"/><circle cx="171.3" cy="146.5" r="1.70"/><circle cx="172.4" cy="150.2" r="1.70"/><circle cx="167.0" cy="176.8" r="1.70"/><circle cx="165.8" cy="156.0" r="1.70"/><circle cx="169.8" cy="155.9" r="1.70"/><circle cx="184.3" cy="58.8" r="1.70"/><circle cx="200.7" cy="58.8" r="1.70"/><circle cx="223.2" cy="58.8" r="1.70"/><circle cx="173.4" cy="73.5" r="1.70"/><circle cx="166.8" cy="83.4" r="1.70"/><circle cx="168.0" cy="86.0" r="1.70"/><circle cx="177.2" cy="90.3" r="1.70"/><circle cx="178.0" cy="95.3" r="1.70"/><circle cx="181.5" cy="95.3" r="1.70"/><circle cx="166.8" cy="98.6" r="1.70"/><circle cx="171.0" cy="101.0" r="1.70"/><circle cx="172.0" cy="102.0" r="1.70"/><circle cx="190.1" cy="98.6" r="1.70"/><circle cx="179.0" cy="103.5" r="1.70"/><circle cx="198.1" cy="103.5" r="1.70"/><circle cx="218.2" cy="109.3" r="1.70"/><circle cx="165.4" cy="109.8" r="1.70"/><circle cx="165.9" cy="114.1" r="1.70"/><circle cx="167.5" cy="114.5" r="1.70"/><circle cx="169.0" cy="114.0" r="1.70"/><circle cx="170.5" cy="113.8" r="1.70"/><circle cx="176.4" cy="115.1" r="1.70"/><circle cx="160.6" cy="116.5" r="1.70"/><circle cx="161.5" cy="120.9" r="1.70"/><circle cx="168.3" cy="122.8" r="1.70"/><circle cx="171.2" cy="121.3" r="1.70"/><circle cx="174.5" cy="120.9" r="1.70"/><circle cx="175.5" cy="123.3" r="1.70"/><circle cx="167.3" cy="127.6" r="1.70"/><circle cx="165.9" cy="128.6" r="1.70"/><circle cx="171.6" cy="131.0" r="1.70"/><circle cx="179.8" cy="131.9" r="1.70"/><circle cx="192.6" cy="129.5" r="1.70"/><circle cx="194.3" cy="137.0" r="1.70"/><circle cx="177.4" cy="147.4" r="1.70"/><circle cx="172.1" cy="149.2" r="1.70"/><circle cx="174.0" cy="158.0" r="1.70"/><circle cx="172.0" cy="165.0" r="1.70"/></g>
<polygon points="146.4,176.5 150.6,181.5 154.9,176.5 154.9,188.2 146.4,188.2" fill="#151515"/>
<line x1="102.8" y1="144.3" x2="133" y2="161.6" stroke="#1a1a1a" stroke-width="0.75" />
<circle cx="102.8" cy="144.3" r="0.9" fill="#111"/>
<line x1="95.3" y1="157.5" x2="136.9" y2="174.4" stroke="#1a1a1a" stroke-width="0.75" />
<circle cx="95.3" cy="157.5" r="0.9" fill="#111"/>
<line x1="117.2" y1="157.5" x2="130" y2="165.5" stroke="#1a1a1a" stroke-width="0.75" />
<circle cx="117.2" cy="157.5" r="0.9" fill="#111"/>
<line x1="96.3" y1="172" x2="139" y2="180.3" stroke="#1a1a1a" stroke-width="0.75" />
<circle cx="96.3" cy="172" r="0.9" fill="#111"/>
<line x1="124.3" y1="183.3" x2="140.9" y2="183" stroke="#1a1a1a" stroke-width="0.75" />
<circle cx="124.3" cy="183.3" r="0.9" fill="#111"/>
<line x1="139.5" y1="88" x2="139.5" y2="127" stroke="#1a1a1a" stroke-width="0.75" />
<circle cx="139.5" cy="88" r="0.9" fill="#111"/>
<line x1="185.9" y1="116.8" x2="171.1" y2="131.9" stroke="#1a1a1a" stroke-width="0.75" />
<circle cx="185.9" cy="116.8" r="0.9" fill="#111"/>
<line x1="174.6" y1="139.5" x2="168.9" y2="146.6" stroke="#1a1a1a" stroke-width="0.75" />
<circle cx="174.6" cy="139.5" r="0.9" fill="#111"/>
<line x1="184.2" y1="152.3" x2="165" y2="158" stroke="#1a1a1a" stroke-width="0.75" />
<circle cx="184.2" cy="152.3" r="0.9" fill="#111"/>
<line x1="201.2" y1="157.5" x2="165.4" y2="168.5" stroke="#1a1a1a" stroke-width="0.75" />
<circle cx="201.2" cy="157.5" r="0.9" fill="#111"/>
<line x1="202.9" y1="164.9" x2="164.2" y2="173.2" stroke="#1a1a1a" stroke-width="0.75" />
<circle cx="202.9" cy="164.9" r="0.9" fill="#111"/>
<line x1="196" y1="174" x2="160.8" y2="178.9" stroke="#1a1a1a" stroke-width="0.75" />
<circle cx="196" cy="174" r="0.9" fill="#111"/>
<line x1="222.6" y1="175.8" x2="165.2" y2="178.2" stroke="#1a1a1a" stroke-width="0.75" />
<circle cx="222.6" cy="175.8" r="0.9" fill="#111"/>
<line x1="202.9" y1="181.3" x2="163" y2="184.7" stroke="#1a1a1a" stroke-width="0.75" />
<circle cx="202.9" cy="181.3" r="0.9" fill="#111"/>
<line x1="50.3" y1="48" x2="50.3" y2="194" stroke="#222" stroke-width="1.1" />
<line x1="50.3" y1="194" x2="251.3" y2="194" stroke="#222" stroke-width="1.1" />
<text x="391.25" y="30.6" font-size="8.8" text-anchor="middle" fill="#222" font-weight="normal" font-style="normal" textLength="97.5" lengthAdjust="spacingAndGlyphs" >Patient 07 Tumor cells T0</text>
<line x1="288.0" y1="59" x2="291.5" y2="59" stroke="#222" stroke-width="0.9" />
<text x="285.5" y="61.6" font-size="7.2" text-anchor="end" fill="#333" font-weight="normal" font-style="normal" >300</text>
<line x1="288.0" y1="101.7" x2="291.5" y2="101.7" stroke="#222" stroke-width="0.9" />
<text x="285.5" y="104.3" font-size="7.2" text-anchor="end" fill="#333" font-weight="normal" font-style="normal" >200</text>
<line x1="288.0" y1="144.3" x2="291.5" y2="144.3" stroke="#222" stroke-width="0.9" />
<text x="285.5" y="146.9" font-size="7.2" text-anchor="end" fill="#333" font-weight="normal" font-style="normal" >100</text>
<line x1="288.0" y1="187" x2="291.5" y2="187" stroke="#222" stroke-width="0.9" />
<text x="285.5" y="189.6" font-size="7.2" text-anchor="end" fill="#333" font-weight="normal" font-style="normal" >0</text>
<line x1="336.5" y1="194" x2="336.5" y2="196.5" stroke="#222" stroke-width="0.8" />
<text x="336.5" y="205.5" font-size="7.2" text-anchor="middle" fill="#333" font-weight="normal" font-style="normal" >−2.5</text>
<line x1="392.0" y1="194" x2="392.0" y2="196.5" stroke="#222" stroke-width="0.8" />
<text x="392.0" y="205.5" font-size="7.2" text-anchor="middle" fill="#333" font-weight="normal" font-style="normal" >0.0</text>
<line x1="447.5" y1="194" x2="447.5" y2="196.5" stroke="#222" stroke-width="0.8" />
<text x="447.5" y="205.5" font-size="7.2" text-anchor="middle" fill="#333" font-weight="normal" font-style="normal" >2.5</text>
<text x="390.9" y="219.2" font-size="9.8" text-anchor="middle" fill="#333" font-weight="normal" font-style="normal" textLength="78.8" lengthAdjust="spacingAndGlyphs" >Average Log fold change</text>
<text transform="translate(269.0,122) rotate(-90)" x="0" y="0" font-size="9.2" text-anchor="middle" fill="#333" textLength="59" lengthAdjust="spacingAndGlyphs">−log(Adj. <tspan font-style="italic">P</tspan> value)</text>
<text x="338.4" y="45.8" font-size="7.2" text-anchor="middle" fill="#333" font-weight="normal" font-style="normal" textLength="50.8" lengthAdjust="spacingAndGlyphs" >N-motif-positive</text>
<text x="456.5" y="45.8" font-size="7.2" text-anchor="middle" fill="#333" font-weight="normal" font-style="normal" textLength="52.6" lengthAdjust="spacingAndGlyphs" >N-motif-negative</text>
<line x1="387.2" y1="49.6" x2="387.2" y2="194" stroke="#111" stroke-width="1.4" stroke-dasharray="6.8,2.9"/>
<line x1="396.3" y1="49.6" x2="396.3" y2="194" stroke="#111" stroke-width="1.4" stroke-dasharray="6.8,2.9"/>
<line x1="291.7" y1="186.8" x2="492" y2="186.8" stroke="#222" stroke-width="1.5" stroke-dasharray="6.6,3.35"/>
<text x="412.7" y="96.3" font-size="6.8" text-anchor="start" fill="#262626" font-weight="normal" font-style="normal" textLength="9.5" lengthAdjust="spacingAndGlyphs" >BIK</text>
<text x="367.5" y="110" font-size="6.8" text-anchor="start" fill="#262626" font-weight="normal" font-style="normal" textLength="11.0" lengthAdjust="spacingAndGlyphs" >BTK</text>
<text x="347.8" y="117.9" font-size="6.8" text-anchor="start" fill="#262626" font-weight="normal" font-style="normal" textLength="18.4" lengthAdjust="spacingAndGlyphs" >CD79B</text>
<text x="308.7" y="123.6" font-size="6.8" text-anchor="start" fill="#262626" font-weight="normal" font-style="normal" textLength="28.3" lengthAdjust="spacingAndGlyphs" >LINC00926</text>
<text x="376" y="131" font-size="6.8" text-anchor="start" fill="#262626" font-weight="normal" font-style="normal" textLength="11.5" lengthAdjust="spacingAndGlyphs" >LYN</text>
<text x="325.6" y="134.7" font-size="6.8" text-anchor="start" fill="#262626" font-weight="normal" font-style="normal" textLength="18.8" lengthAdjust="spacingAndGlyphs" >BANK1</text>
<text x="351.1" y="133" font-size="6.8" text-anchor="start" fill="#262626" font-weight="normal" font-style="normal" textLength="12.2" lengthAdjust="spacingAndGlyphs" >KLF2</text>
<text x="328.3" y="142.8" font-size="6.8" text-anchor="start" fill="#262626" font-weight="normal" font-style="normal" textLength="16.1" lengthAdjust="spacingAndGlyphs" >ITGA4</text>
<text x="306.7" y="151" font-size="6.8" text-anchor="start" fill="#262626" font-weight="normal" font-style="normal" textLength="20.9" lengthAdjust="spacingAndGlyphs" >IFNGR2</text>
<text x="341.5" y="151.8" font-size="6.8" text-anchor="start" fill="#262626" font-weight="normal" font-style="normal" textLength="16.4" lengthAdjust="spacingAndGlyphs" >TXNIP</text>
<text x="349.1" y="158.8" font-size="6.8" text-anchor="start" fill="#262626" font-weight="normal" font-style="normal" textLength="16.9" lengthAdjust="spacingAndGlyphs" >GNG11</text>
<text x="321.5" y="164.2" font-size="6.8" text-anchor="start" fill="#262626" font-weight="normal" font-style="normal" textLength="18.2" lengthAdjust="spacingAndGlyphs" >ALOX5</text>
<text x="344.4" y="169.6" font-size="6.8" text-anchor="start" fill="#262626" font-weight="normal" font-style="normal" textLength="8.8" lengthAdjust="spacingAndGlyphs" >ID3</text>
<text x="301.3" y="169.9" font-size="6.8" text-anchor="start" fill="#262626" font-weight="normal" font-style="normal" textLength="14.9" lengthAdjust="spacingAndGlyphs" >CD82</text>
<text x="302" y="175.7" font-size="6.8" text-anchor="start" fill="#262626" font-weight="normal" font-style="normal" textLength="18.2" lengthAdjust="spacingAndGlyphs" >IFITM2</text>
<text x="324.2" y="180" font-size="6.8" text-anchor="start" fill="#262626" font-weight="normal" font-style="normal" textLength="16.2" lengthAdjust="spacingAndGlyphs" >FCRLA</text>
<text x="360.3" y="182.4" font-size="6.8" text-anchor="start" fill="#262626" font-weight="normal" font-style="normal" textLength="15.7" lengthAdjust="spacingAndGlyphs" >CD52</text>
<text x="302" y="185.5" font-size="6.8" text-anchor="start" fill="#262626" font-weight="normal" font-style="normal" textLength="29" lengthAdjust="spacingAndGlyphs" >PPP1R15A</text>
<text x="404" y="116" font-size="6.8" text-anchor="start" fill="#262626" font-weight="normal" font-style="normal" textLength="17" lengthAdjust="spacingAndGlyphs" >FABP5</text>
<text x="408" y="130.5" font-size="6.8" text-anchor="start" fill="#262626" font-weight="normal" font-style="normal" textLength="17" lengthAdjust="spacingAndGlyphs" >HMGN2</text>
<text x="428.9" y="139.4" font-size="6.8" text-anchor="start" fill="#262626" font-weight="normal" font-style="normal" textLength="17.4" lengthAdjust="spacingAndGlyphs" >PRDX1</text>
<text x="458.7" y="139.1" font-size="6.8" text-anchor="start" fill="#262626" font-weight="normal" font-style="normal" textLength="13.3" lengthAdjust="spacingAndGlyphs" >LRMP</text>
<text x="444.8" y="149.8" font-size="6.8" text-anchor="start" fill="#262626" font-weight="normal" font-style="normal" textLength="14.4" lengthAdjust="spacingAndGlyphs" >MZB1</text>
<text x="410" y="150" font-size="6.8" text-anchor="start" fill="#262626" font-weight="normal" font-style="normal" textLength="10" lengthAdjust="spacingAndGlyphs" >ID3</text>
<text x="431.5" y="160.1" font-size="6.8" text-anchor="start" fill="#262626" font-weight="normal" font-style="normal" textLength="12.3" lengthAdjust="spacingAndGlyphs" >ADA</text>
<text x="465.9" y="158.9" font-size="6.8" text-anchor="start" fill="#262626" font-weight="normal" font-style="normal" textLength="14.0" lengthAdjust="spacingAndGlyphs" >LDHB</text>
<text x="446.3" y="167.9" font-size="6.8" text-anchor="start" fill="#262626" font-weight="normal" font-style="normal" textLength="19.6" lengthAdjust="spacingAndGlyphs" >COX5A</text>
<text x="472" y="169.4" font-size="6.8" text-anchor="start" fill="#262626" font-weight="normal" font-style="normal" textLength="17.3" lengthAdjust="spacingAndGlyphs" >NEAT1</text>
<text x="410" y="170" font-size="6.8" text-anchor="start" fill="#262626" font-weight="normal" font-style="normal" textLength="15" lengthAdjust="spacingAndGlyphs" >CD38</text>
<text x="426.1" y="178.7" font-size="6.8" text-anchor="start" fill="#262626" font-weight="normal" font-style="normal" textLength="17.3" lengthAdjust="spacingAndGlyphs" >HSPA9</text>
<text x="472" y="180.3" font-size="6.8" text-anchor="start" fill="#262626" font-weight="normal" font-style="normal" textLength="15.1" lengthAdjust="spacingAndGlyphs" >LDHA</text>
<text x="450.3" y="184.9" font-size="6.8" text-anchor="start" fill="#262626" font-weight="normal" font-style="normal" textLength="21.7" lengthAdjust="spacingAndGlyphs" >COX6A1</text>
<text x="405" y="185.5" font-size="6.8" text-anchor="start" fill="#262626" font-weight="normal" font-style="normal" textLength="17" lengthAdjust="spacingAndGlyphs" >COX8A</text>
<g fill="#c80e28" stroke="#6a0a18" stroke-width="0.6" stroke-opacity="0.8"><circle cx="377.5" cy="121.8" r="1.70"/><circle cx="372.2" cy="142.3" r="1.70"/><circle cx="374.4" cy="129.8" r="1.70"/><circle cx="371.9" cy="128.7" r="1.70"/><circle cx="373.0" cy="135.0" r="1.70"/><circle cx="373.0" cy="127.7" r="1.70"/><circle cx="374.1" cy="136.0" r="1.70"/><circle cx="378.0" cy="131.7" r="1.70"/><circle cx="375.1" cy="143.2" r="1.70"/><circle cx="372.0" cy="147.5" r="1.70"/><circle cx="381.4" cy="145.4" r="1.70"/><circle cx="371.9" cy="146.6" r="1.70"/><circle cx="379.9" cy="139.0" r="1.70"/><circle cx="381.5" cy="149.1" r="1.70"/><circle cx="375.0" cy="127.8" r="1.70"/><circle cx="374.0" cy="127.7" r="1.70"/><circle cx="375.5" cy="147.9" r="1.70"/><circle cx="373.2" cy="138.4" r="1.70"/><circle cx="372.7" cy="123.8" r="1.70"/><circle cx="372.5" cy="147.9" r="1.70"/><circle cx="372.4" cy="120.7" r="1.70"/><circle cx="379.6" cy="146.6" r="1.70"/><circle cx="383.2" cy="164.2" r="1.70"/><circle cx="369.0" cy="152.4" r="1.70"/><circle cx="368.4" cy="155.9" r="1.70"/><circle cx="378.2" cy="155.9" r="1.70"/><circle cx="382.0" cy="164.4" r="1.70"/><circle cx="379.6" cy="153.9" r="1.70"/><circle cx="375.6" cy="160.9" r="1.70"/><circle cx="378.9" cy="165.7" r="1.70"/><circle cx="370.0" cy="161.5" r="1.70"/><circle cx="377.6" cy="160.1" r="1.70"/><circle cx="374.4" cy="150.6" r="1.70"/><circle cx="372.4" cy="152.4" r="1.70"/><circle cx="375.7" cy="165.5" r="1.70"/><circle cx="369.1" cy="159.0" r="1.70"/><circle cx="370.3" cy="160.5" r="1.70"/><circle cx="379.5" cy="157.4" r="1.70"/><circle cx="381.6" cy="152.2" r="1.70"/><circle cx="380.2" cy="152.9" r="1.70"/><circle cx="380.0" cy="166.0" r="1.70"/><circle cx="365.9" cy="153.8" r="1.70"/><circle cx="374.2" cy="165.9" r="1.70"/><circle cx="368.7" cy="158.1" r="1.70"/><circle cx="374.2" cy="163.0" r="1.70"/><circle cx="367.9" cy="160.4" r="1.70"/><circle cx="365.6" cy="161.8" r="1.70"/><circle cx="379.6" cy="161.5" r="1.70"/><circle cx="374.4" cy="154.8" r="1.70"/><circle cx="371.4" cy="164.2" r="1.70"/><circle cx="368.4" cy="164.7" r="1.70"/><circle cx="369.2" cy="154.8" r="1.70"/><circle cx="376.9" cy="156.0" r="1.70"/><circle cx="376.2" cy="159.6" r="1.70"/><circle cx="381.6" cy="151.8" r="1.70"/><circle cx="382.7" cy="151.8" r="1.70"/><circle cx="378.7" cy="162.7" r="1.70"/><circle cx="376.2" cy="168.2" r="1.70"/><circle cx="369.4" cy="179.7" r="1.70"/><circle cx="379.6" cy="182.9" r="1.70"/><circle cx="371.5" cy="176.3" r="1.70"/><circle cx="373.4" cy="171.4" r="1.70"/><circle cx="381.7" cy="180.3" r="1.70"/><circle cx="372.1" cy="184.6" r="1.70"/><circle cx="371.4" cy="173.4" r="1.70"/><circle cx="380.2" cy="184.3" r="1.70"/><circle cx="374.9" cy="171.0" r="1.70"/><circle cx="380.0" cy="185.2" r="1.70"/><circle cx="381.4" cy="168.5" r="1.70"/><circle cx="382.5" cy="183.8" r="1.70"/><circle cx="368.7" cy="172.5" r="1.70"/><circle cx="384.8" cy="184.6" r="1.70"/><circle cx="381.9" cy="182.6" r="1.70"/><circle cx="384.1" cy="176.5" r="1.70"/><circle cx="384.0" cy="180.8" r="1.70"/><circle cx="370.8" cy="166.5" r="1.70"/><circle cx="369.9" cy="185.8" r="1.70"/><circle cx="381.4" cy="185.8" r="1.70"/><circle cx="369.2" cy="166.4" r="1.70"/><circle cx="378.2" cy="171.9" r="1.70"/><circle cx="376.2" cy="183.7" r="1.70"/><circle cx="384.2" cy="185.6" r="1.70"/><circle cx="385.9" cy="179.5" r="1.70"/><circle cx="371.5" cy="179.2" r="1.70"/><circle cx="376.9" cy="172.7" r="1.70"/><circle cx="378.0" cy="174.1" r="1.70"/><circle cx="377.2" cy="184.9" r="1.70"/><circle cx="372.7" cy="179.1" r="1.70"/><circle cx="377.7" cy="168.0" r="1.70"/><circle cx="371.5" cy="175.4" r="1.70"/><circle cx="383.2" cy="178.7" r="1.70"/><circle cx="367.8" cy="172.1" r="1.70"/><circle cx="372.1" cy="171.0" r="1.70"/><circle cx="372.3" cy="169.2" r="1.70"/><circle cx="378.1" cy="173.9" r="1.70"/><circle cx="375.8" cy="181.1" r="1.70"/><circle cx="380.8" cy="185.8" r="1.70"/><circle cx="371.8" cy="170.8" r="1.70"/><circle cx="382.2" cy="174.1" r="1.70"/><circle cx="378.9" cy="178.7" r="1.70"/><circle cx="379.1" cy="174.3" r="1.70"/><circle cx="366.6" cy="173.1" r="1.70"/><circle cx="376.0" cy="184.0" r="1.70"/><circle cx="379.0" cy="170.9" r="1.70"/><circle cx="366.2" cy="177.2" r="1.70"/><circle cx="378.9" cy="187.2" r="1.70"/><circle cx="373.4" cy="184.5" r="1.70"/><circle cx="375.7" cy="167.3" r="1.70"/><circle cx="378.0" cy="185.8" r="1.70"/><circle cx="372.4" cy="176.1" r="1.70"/><circle cx="374.4" cy="176.7" r="1.70"/><circle cx="376.0" cy="169.8" r="1.70"/><circle cx="367.6" cy="179.0" r="1.70"/><circle cx="375.2" cy="183.4" r="1.70"/><circle cx="372.3" cy="179.4" r="1.70"/><circle cx="369.2" cy="185.3" r="1.70"/><circle cx="385.7" cy="180.2" r="1.70"/><circle cx="380.6" cy="182.0" r="1.70"/><circle cx="381.1" cy="187.7" r="1.70"/><circle cx="373.6" cy="178.7" r="1.70"/><circle cx="382.7" cy="180.3" r="1.70"/><circle cx="373.9" cy="183.1" r="1.70"/><circle cx="375.5" cy="167.3" r="1.70"/><circle cx="372.6" cy="183.2" r="1.70"/><circle cx="383.5" cy="179.4" r="1.70"/><circle cx="373.7" cy="185.2" r="1.70"/><circle cx="373.5" cy="170.2" r="1.70"/><circle cx="376.4" cy="177.7" r="1.70"/><circle cx="368.8" cy="183.0" r="1.70"/><circle cx="375.3" cy="180.2" r="1.70"/><circle cx="369.1" cy="170.0" r="1.70"/><circle cx="381.9" cy="177.7" r="1.70"/><circle cx="384.6" cy="175.9" r="1.70"/><circle cx="379.4" cy="169.7" r="1.70"/><circle cx="381.0" cy="169.3" r="1.70"/><circle cx="382.9" cy="179.7" r="1.70"/><circle cx="383.9" cy="178.6" r="1.70"/><circle cx="375.7" cy="187.9" r="1.70"/><circle cx="383.2" cy="181.8" r="1.70"/><circle cx="378.9" cy="181.4" r="1.70"/><circle cx="375.0" cy="178.6" r="1.70"/><circle cx="380.0" cy="173.5" r="1.70"/><circle cx="367.9" cy="167.6" r="1.70"/><circle cx="373.2" cy="186.7" r="1.70"/><circle cx="369.7" cy="168.1" r="1.70"/><circle cx="372.5" cy="184.9" r="1.70"/><circle cx="385.5" cy="174.1" r="1.70"/><circle cx="370.9" cy="187.7" r="1.70"/><circle cx="382.1" cy="173.6" r="1.70"/><circle cx="385.0" cy="185.8" r="1.70"/><circle cx="373.0" cy="182.9" r="1.70"/><circle cx="384.5" cy="180.4" r="1.70"/><circle cx="369.5" cy="168.1" r="1.70"/><circle cx="370.9" cy="184.3" r="1.70"/><circle cx="370.6" cy="174.6" r="1.70"/><circle cx="367.5" cy="173.3" r="1.70"/><circle cx="368.6" cy="170.7" r="1.70"/><circle cx="375.1" cy="183.7" r="1.70"/><circle cx="371.8" cy="176.3" r="1.70"/><circle cx="369.0" cy="178.4" r="1.70"/><circle cx="382.2" cy="175.8" r="1.70"/><circle cx="384.9" cy="182.8" r="1.70"/><circle cx="385.5" cy="177.2" r="1.70"/><circle cx="384.4" cy="177.7" r="1.70"/><circle cx="377.7" cy="177.2" r="1.70"/><circle cx="368.7" cy="176.1" r="1.70"/><circle cx="373.3" cy="187.9" r="1.70"/><circle cx="376.4" cy="177.7" r="1.70"/><circle cx="368.9" cy="173.4" r="1.70"/><circle cx="379.8" cy="179.8" r="1.70"/><circle cx="383.5" cy="166.9" r="1.70"/><circle cx="374.0" cy="174.0" r="1.70"/><circle cx="377.7" cy="187.4" r="1.70"/><circle cx="366.5" cy="173.0" r="1.70"/><circle cx="367.4" cy="180.7" r="1.70"/><circle cx="378.0" cy="176.8" r="1.70"/><circle cx="384.2" cy="168.3" r="1.70"/><circle cx="374.0" cy="172.2" r="1.70"/><circle cx="370.3" cy="180.6" r="1.70"/><circle cx="378.8" cy="179.9" r="1.70"/><circle cx="371.2" cy="176.4" r="1.70"/><circle cx="380.1" cy="183.4" r="1.70"/><circle cx="376.8" cy="178.7" r="1.70"/><circle cx="380.6" cy="169.8" r="1.70"/><circle cx="378.5" cy="169.8" r="1.70"/><circle cx="382.2" cy="176.9" r="1.70"/><circle cx="366.0" cy="176.9" r="1.70"/><circle cx="370.2" cy="173.6" r="1.70"/><circle cx="381.9" cy="180.7" r="1.70"/><circle cx="376.7" cy="181.4" r="1.70"/><circle cx="370.4" cy="174.0" r="1.70"/><circle cx="375.4" cy="187.1" r="1.70"/><circle cx="375.3" cy="168.5" r="1.70"/><circle cx="382.9" cy="186.9" r="1.70"/><circle cx="384.6" cy="187.9" r="1.70"/><circle cx="373.8" cy="167.7" r="1.70"/><circle cx="370.3" cy="173.5" r="1.70"/><circle cx="373.7" cy="168.0" r="1.70"/><circle cx="374.3" cy="174.4" r="1.70"/><circle cx="374.8" cy="172.7" r="1.70"/><circle cx="382.6" cy="173.0" r="1.70"/><circle cx="378.0" cy="173.3" r="1.70"/><circle cx="384.0" cy="171.2" r="1.70"/><circle cx="386.1" cy="184.0" r="1.70"/><circle cx="366.8" cy="171.0" r="1.70"/><circle cx="379.8" cy="173.6" r="1.70"/><circle cx="369.9" cy="169.9" r="1.70"/><circle cx="325.8" cy="117.5" r="1.70"/><circle cx="369.3" cy="115.5" r="1.70"/><circle cx="348.7" cy="132.3" r="1.70"/><circle cx="348.7" cy="140.4" r="1.70"/><circle cx="361.2" cy="141.0" r="1.70"/><circle cx="352.5" cy="144.7" r="1.70"/><circle cx="357.6" cy="152.8" r="1.70"/><circle cx="361.2" cy="156.8" r="1.70"/><circle cx="365.3" cy="161.5" r="1.70"/><circle cx="357.9" cy="158.8" r="1.70"/><circle cx="373.0" cy="121.0" r="1.70"/><circle cx="375.0" cy="126.0" r="1.70"/><circle cx="376.0" cy="130.0" r="1.70"/><circle cx="363.0" cy="160.0" r="1.70"/><circle cx="364.0" cy="168.0" r="1.70"/><circle cx="366.0" cy="156.0" r="1.70"/></g>
<g fill="#164a88" stroke="#0a2548" stroke-width="0.6" stroke-opacity="0.8"><circle cx="402.6" cy="126.4" r="1.70"/><circle cx="406.1" cy="137.3" r="1.70"/><circle cx="406.2" cy="136.6" r="1.70"/><circle cx="416.5" cy="123.0" r="1.70"/><circle cx="409.9" cy="147.7" r="1.70"/><circle cx="400.4" cy="148.3" r="1.70"/><circle cx="407.7" cy="116.0" r="1.70"/><circle cx="405.1" cy="111.4" r="1.70"/><circle cx="405.7" cy="149.4" r="1.70"/><circle cx="417.1" cy="125.1" r="1.70"/><circle cx="405.4" cy="108.8" r="1.70"/><circle cx="400.1" cy="132.7" r="1.70"/><circle cx="401.8" cy="122.9" r="1.70"/><circle cx="399.1" cy="143.6" r="1.70"/><circle cx="413.0" cy="149.8" r="1.70"/><circle cx="420.5" cy="144.9" r="1.70"/><circle cx="417.9" cy="146.3" r="1.70"/><circle cx="399.1" cy="144.6" r="1.70"/><circle cx="402.3" cy="119.8" r="1.70"/><circle cx="401.5" cy="119.2" r="1.70"/><circle cx="415.3" cy="147.9" r="1.70"/><circle cx="414.0" cy="120.0" r="1.70"/><circle cx="400.2" cy="119.4" r="1.70"/><circle cx="411.4" cy="123.6" r="1.70"/><circle cx="418.2" cy="130.7" r="1.70"/><circle cx="419.9" cy="139.3" r="1.70"/><circle cx="399.5" cy="119.9" r="1.70"/><circle cx="412.1" cy="149.4" r="1.70"/><circle cx="400.3" cy="115.7" r="1.70"/><circle cx="413.4" cy="136.9" r="1.70"/><circle cx="417.4" cy="143.0" r="1.70"/><circle cx="399.6" cy="129.6" r="1.70"/><circle cx="409.4" cy="134.6" r="1.70"/><circle cx="411.7" cy="131.6" r="1.70"/><circle cx="415.7" cy="143.9" r="1.70"/><circle cx="411.1" cy="134.7" r="1.70"/><circle cx="405.4" cy="123.6" r="1.70"/><circle cx="414.6" cy="133.8" r="1.70"/><circle cx="410.6" cy="110.3" r="1.70"/><circle cx="403.2" cy="126.2" r="1.70"/><circle cx="421.0" cy="147.5" r="1.70"/><circle cx="413.5" cy="120.5" r="1.70"/><circle cx="410.3" cy="136.1" r="1.70"/><circle cx="411.2" cy="108.9" r="1.70"/><circle cx="403.4" cy="124.8" r="1.70"/><circle cx="417.2" cy="132.0" r="1.70"/><circle cx="412.1" cy="134.2" r="1.70"/><circle cx="416.0" cy="124.7" r="1.70"/><circle cx="402.8" cy="116.1" r="1.70"/><circle cx="403.1" cy="149.9" r="1.70"/><circle cx="409.6" cy="132.3" r="1.70"/><circle cx="413.7" cy="115.7" r="1.70"/><circle cx="417.0" cy="148.2" r="1.70"/><circle cx="413.4" cy="115.9" r="1.70"/><circle cx="402.8" cy="126.0" r="1.70"/><circle cx="411.8" cy="114.3" r="1.70"/><circle cx="415.6" cy="121.2" r="1.70"/><circle cx="399.9" cy="135.4" r="1.70"/><circle cx="414.0" cy="126.7" r="1.70"/><circle cx="414.2" cy="141.6" r="1.70"/><circle cx="402.1" cy="110.9" r="1.70"/><circle cx="410.9" cy="124.5" r="1.70"/><circle cx="401.7" cy="130.5" r="1.70"/><circle cx="414.1" cy="139.3" r="1.70"/><circle cx="405.7" cy="116.8" r="1.70"/><circle cx="416.1" cy="146.3" r="1.70"/><circle cx="402.1" cy="117.6" r="1.70"/><circle cx="416.2" cy="125.7" r="1.70"/><circle cx="406.5" cy="112.8" r="1.70"/><circle cx="409.6" cy="130.0" r="1.70"/><circle cx="401.6" cy="142.1" r="1.70"/><circle cx="413.0" cy="142.4" r="1.70"/><circle cx="407.6" cy="174.1" r="1.70"/><circle cx="406.7" cy="172.6" r="1.70"/><circle cx="397.9" cy="182.2" r="1.70"/><circle cx="404.5" cy="150.1" r="1.70"/><circle cx="406.1" cy="183.8" r="1.70"/><circle cx="400.2" cy="158.0" r="1.70"/><circle cx="403.5" cy="165.2" r="1.70"/><circle cx="398.0" cy="168.2" r="1.70"/><circle cx="410.8" cy="186.5" r="1.70"/><circle cx="406.8" cy="155.1" r="1.70"/><circle cx="401.8" cy="166.4" r="1.70"/><circle cx="405.4" cy="158.3" r="1.70"/><circle cx="413.7" cy="152.0" r="1.70"/><circle cx="419.0" cy="156.8" r="1.70"/><circle cx="397.9" cy="178.2" r="1.70"/><circle cx="399.6" cy="180.2" r="1.70"/><circle cx="397.9" cy="184.6" r="1.70"/><circle cx="416.1" cy="166.7" r="1.70"/><circle cx="417.6" cy="170.5" r="1.70"/><circle cx="399.0" cy="153.4" r="1.70"/><circle cx="404.6" cy="165.2" r="1.70"/><circle cx="412.5" cy="183.3" r="1.70"/><circle cx="406.9" cy="178.1" r="1.70"/><circle cx="418.8" cy="163.6" r="1.70"/><circle cx="404.6" cy="162.5" r="1.70"/><circle cx="399.8" cy="170.9" r="1.70"/><circle cx="419.8" cy="151.3" r="1.70"/><circle cx="397.9" cy="179.4" r="1.70"/><circle cx="402.6" cy="178.1" r="1.70"/><circle cx="417.4" cy="153.7" r="1.70"/><circle cx="398.7" cy="156.2" r="1.70"/><circle cx="412.2" cy="158.1" r="1.70"/><circle cx="419.6" cy="163.4" r="1.70"/><circle cx="398.7" cy="185.7" r="1.70"/><circle cx="418.3" cy="159.3" r="1.70"/><circle cx="402.6" cy="162.2" r="1.70"/><circle cx="413.3" cy="165.4" r="1.70"/><circle cx="401.1" cy="183.8" r="1.70"/><circle cx="398.9" cy="178.1" r="1.70"/><circle cx="400.0" cy="169.6" r="1.70"/><circle cx="399.1" cy="178.8" r="1.70"/><circle cx="398.2" cy="162.2" r="1.70"/><circle cx="400.8" cy="160.7" r="1.70"/><circle cx="409.8" cy="186.4" r="1.70"/><circle cx="414.6" cy="179.5" r="1.70"/><circle cx="416.9" cy="155.0" r="1.70"/><circle cx="403.3" cy="182.5" r="1.70"/><circle cx="411.3" cy="184.1" r="1.70"/><circle cx="410.2" cy="156.0" r="1.70"/><circle cx="403.0" cy="170.7" r="1.70"/><circle cx="406.6" cy="156.7" r="1.70"/><circle cx="399.8" cy="164.1" r="1.70"/><circle cx="398.0" cy="179.4" r="1.70"/><circle cx="408.3" cy="160.8" r="1.70"/><circle cx="411.3" cy="182.3" r="1.70"/><circle cx="403.9" cy="177.7" r="1.70"/><circle cx="400.7" cy="181.9" r="1.70"/><circle cx="403.5" cy="156.1" r="1.70"/><circle cx="404.4" cy="181.5" r="1.70"/><circle cx="415.7" cy="175.8" r="1.70"/><circle cx="412.8" cy="183.5" r="1.70"/><circle cx="409.7" cy="185.7" r="1.70"/><circle cx="401.0" cy="162.5" r="1.70"/><circle cx="402.0" cy="169.8" r="1.70"/><circle cx="400.0" cy="178.1" r="1.70"/><circle cx="418.3" cy="174.0" r="1.70"/><circle cx="417.9" cy="150.1" r="1.70"/><circle cx="400.6" cy="184.1" r="1.70"/><circle cx="398.9" cy="153.9" r="1.70"/><circle cx="402.6" cy="160.3" r="1.70"/><circle cx="398.6" cy="150.8" r="1.70"/><circle cx="403.6" cy="157.3" r="1.70"/><circle cx="397.6" cy="182.5" r="1.70"/><circle cx="407.7" cy="156.3" r="1.70"/><circle cx="403.6" cy="180.8" r="1.70"/><circle cx="401.4" cy="153.3" r="1.70"/><circle cx="399.6" cy="166.2" r="1.70"/><circle cx="410.0" cy="181.0" r="1.70"/><circle cx="400.8" cy="160.9" r="1.70"/><circle cx="398.2" cy="184.8" r="1.70"/><circle cx="406.8" cy="164.8" r="1.70"/><circle cx="400.2" cy="177.4" r="1.70"/><circle cx="412.0" cy="164.7" r="1.70"/><circle cx="409.0" cy="157.1" r="1.70"/><circle cx="398.1" cy="180.2" r="1.70"/><circle cx="405.0" cy="160.1" r="1.70"/><circle cx="398.7" cy="160.5" r="1.70"/><circle cx="403.5" cy="157.2" r="1.70"/><circle cx="416.3" cy="156.0" r="1.70"/><circle cx="398.0" cy="169.2" r="1.70"/><circle cx="406.6" cy="153.4" r="1.70"/><circle cx="402.2" cy="154.8" r="1.70"/><circle cx="411.5" cy="180.8" r="1.70"/><circle cx="399.7" cy="173.9" r="1.70"/><circle cx="408.3" cy="173.8" r="1.70"/><circle cx="403.0" cy="187.6" r="1.70"/><circle cx="406.8" cy="170.9" r="1.70"/><circle cx="407.8" cy="183.2" r="1.70"/><circle cx="416.3" cy="156.9" r="1.70"/><circle cx="410.9" cy="175.7" r="1.70"/><circle cx="412.1" cy="173.4" r="1.70"/><circle cx="409.4" cy="185.5" r="1.70"/><circle cx="407.1" cy="151.7" r="1.70"/><circle cx="407.3" cy="168.4" r="1.70"/><circle cx="398.1" cy="167.5" r="1.70"/><circle cx="401.5" cy="151.2" r="1.70"/><circle cx="398.5" cy="180.9" r="1.70"/><circle cx="412.5" cy="178.3" r="1.70"/><circle cx="398.2" cy="186.7" r="1.70"/><circle cx="400.7" cy="161.4" r="1.70"/><circle cx="404.2" cy="187.1" r="1.70"/><circle cx="407.4" cy="166.0" r="1.70"/><circle cx="399.3" cy="161.2" r="1.70"/><circle cx="412.4" cy="154.9" r="1.70"/><circle cx="398.5" cy="186.1" r="1.70"/><circle cx="406.6" cy="169.1" r="1.70"/><circle cx="398.9" cy="177.2" r="1.70"/><circle cx="399.3" cy="172.5" r="1.70"/><circle cx="416.1" cy="165.4" r="1.70"/><circle cx="405.6" cy="182.2" r="1.70"/><circle cx="400.3" cy="159.6" r="1.70"/><circle cx="418.3" cy="156.6" r="1.70"/><circle cx="404.5" cy="173.1" r="1.70"/><circle cx="407.7" cy="156.1" r="1.70"/><circle cx="417.1" cy="172.8" r="1.70"/><circle cx="403.5" cy="158.4" r="1.70"/><circle cx="402.2" cy="178.7" r="1.70"/><circle cx="418.4" cy="171.3" r="1.70"/><circle cx="417.6" cy="157.4" r="1.70"/><circle cx="415.8" cy="157.0" r="1.70"/><circle cx="403.5" cy="185.8" r="1.70"/><circle cx="418.2" cy="151.6" r="1.70"/><circle cx="403.9" cy="178.4" r="1.70"/><circle cx="403.9" cy="163.9" r="1.70"/><circle cx="398.6" cy="167.7" r="1.70"/><circle cx="406.5" cy="171.4" r="1.70"/><circle cx="398.6" cy="187.0" r="1.70"/><circle cx="414.0" cy="151.1" r="1.70"/><circle cx="410.3" cy="152.4" r="1.70"/><circle cx="416.8" cy="157.2" r="1.70"/><circle cx="398.6" cy="154.4" r="1.70"/><circle cx="402.0" cy="163.5" r="1.70"/><circle cx="402.2" cy="162.2" r="1.70"/><circle cx="417.5" cy="167.3" r="1.70"/><circle cx="401.7" cy="164.3" r="1.70"/><circle cx="405.2" cy="168.1" r="1.70"/><circle cx="402.7" cy="151.9" r="1.70"/><circle cx="409.3" cy="176.3" r="1.70"/><circle cx="405.6" cy="183.2" r="1.70"/><circle cx="407.5" cy="151.7" r="1.70"/><circle cx="405.0" cy="177.7" r="1.70"/><circle cx="399.7" cy="167.6" r="1.70"/><circle cx="398.7" cy="183.1" r="1.70"/><circle cx="404.0" cy="176.7" r="1.70"/><circle cx="400.9" cy="176.9" r="1.70"/><circle cx="404.4" cy="184.5" r="1.70"/><circle cx="409.7" cy="156.1" r="1.70"/><circle cx="410.4" cy="166.2" r="1.70"/><circle cx="409.2" cy="180.2" r="1.70"/><circle cx="407.6" cy="170.4" r="1.70"/><circle cx="406.2" cy="164.6" r="1.70"/><circle cx="400.9" cy="176.1" r="1.70"/><circle cx="405.4" cy="179.4" r="1.70"/><circle cx="408.1" cy="173.3" r="1.70"/><circle cx="400.9" cy="187.4" r="1.70"/><circle cx="401.7" cy="155.2" r="1.70"/><circle cx="406.6" cy="166.8" r="1.70"/><circle cx="417.6" cy="177.0" r="1.70"/><circle cx="412.2" cy="176.6" r="1.70"/><circle cx="398.1" cy="181.8" r="1.70"/><circle cx="405.8" cy="154.9" r="1.70"/><circle cx="401.7" cy="185.5" r="1.70"/><circle cx="412.0" cy="171.2" r="1.70"/><circle cx="399.8" cy="183.7" r="1.70"/><circle cx="413.0" cy="151.5" r="1.70"/><circle cx="401.7" cy="182.0" r="1.70"/><circle cx="410.1" cy="174.5" r="1.70"/><circle cx="415.8" cy="164.5" r="1.70"/><circle cx="407.5" cy="156.8" r="1.70"/><circle cx="413.0" cy="159.9" r="1.70"/><circle cx="406.5" cy="159.1" r="1.70"/><circle cx="412.1" cy="158.1" r="1.70"/><circle cx="399.9" cy="153.2" r="1.70"/><circle cx="398.4" cy="154.9" r="1.70"/><circle cx="409.1" cy="158.9" r="1.70"/><circle cx="418.3" cy="169.0" r="1.70"/><circle cx="405.0" cy="166.2" r="1.70"/><circle cx="416.5" cy="158.2" r="1.70"/><circle cx="404.2" cy="164.8" r="1.70"/><circle cx="405.5" cy="170.7" r="1.70"/><circle cx="402.6" cy="160.5" r="1.70"/><circle cx="407.5" cy="173.0" r="1.70"/><circle cx="402.5" cy="173.3" r="1.70"/><circle cx="415.8" cy="158.0" r="1.70"/><circle cx="405.3" cy="168.9" r="1.70"/><circle cx="401.3" cy="180.8" r="1.70"/><circle cx="405.6" cy="182.3" r="1.70"/><circle cx="398.9" cy="165.8" r="1.70"/><circle cx="403.4" cy="153.0" r="1.70"/><circle cx="415.6" cy="155.9" r="1.70"/><circle cx="401.2" cy="151.6" r="1.70"/><circle cx="416.5" cy="171.7" r="1.70"/><circle cx="397.8" cy="187.4" r="1.70"/><circle cx="406.7" cy="166.4" r="1.70"/><circle cx="413.9" cy="153.0" r="1.70"/><circle cx="419.5" cy="167.4" r="1.70"/><circle cx="407.0" cy="168.2" r="1.70"/><circle cx="404.5" cy="161.9" r="1.70"/><circle cx="408.3" cy="174.3" r="1.70"/><circle cx="417.0" cy="174.5" r="1.70"/><circle cx="407.6" cy="162.2" r="1.70"/><circle cx="401.8" cy="184.1" r="1.70"/><circle cx="407.6" cy="172.6" r="1.70"/><circle cx="416.5" cy="166.1" r="1.70"/><circle cx="406.9" cy="151.3" r="1.70"/><circle cx="409.3" cy="171.2" r="1.70"/><circle cx="403.9" cy="150.1" r="1.70"/><circle cx="414.5" cy="167.8" r="1.70"/><circle cx="401.5" cy="181.3" r="1.70"/><circle cx="415.3" cy="150.8" r="1.70"/><circle cx="399.1" cy="168.4" r="1.70"/><circle cx="411.7" cy="154.0" r="1.70"/><circle cx="419.7" cy="156.8" r="1.70"/><circle cx="405.4" cy="154.2" r="1.70"/><circle cx="401.0" cy="181.9" r="1.70"/><circle cx="406.7" cy="168.5" r="1.70"/><circle cx="399.5" cy="180.7" r="1.70"/><circle cx="409.4" cy="164.0" r="1.70"/><circle cx="418.3" cy="174.4" r="1.70"/><circle cx="398.4" cy="163.7" r="1.70"/><circle cx="413.2" cy="172.2" r="1.70"/><circle cx="410.3" cy="176.2" r="1.70"/><circle cx="400.3" cy="187.7" r="1.70"/><circle cx="409.1" cy="156.0" r="1.70"/><circle cx="400.7" cy="162.5" r="1.70"/><circle cx="407.8" cy="169.0" r="1.70"/><circle cx="408.9" cy="177.7" r="1.70"/><circle cx="419.5" cy="167.7" r="1.70"/><circle cx="404.8" cy="166.1" r="1.70"/><circle cx="399.0" cy="183.2" r="1.70"/><circle cx="399.4" cy="159.1" r="1.70"/><circle cx="399.1" cy="184.0" r="1.70"/><circle cx="414.7" cy="168.0" r="1.70"/><circle cx="414.6" cy="164.6" r="1.70"/><circle cx="397.6" cy="185.5" r="1.70"/><circle cx="403.2" cy="158.7" r="1.70"/><circle cx="403.8" cy="160.8" r="1.70"/><circle cx="400.7" cy="181.4" r="1.70"/><circle cx="410.9" cy="184.0" r="1.70"/><circle cx="403.5" cy="165.8" r="1.70"/><circle cx="404.0" cy="170.8" r="1.70"/><circle cx="409.6" cy="185.7" r="1.70"/><circle cx="418.7" cy="165.8" r="1.70"/><circle cx="409.2" cy="171.2" r="1.70"/><circle cx="397.9" cy="178.4" r="1.70"/><circle cx="416.0" cy="152.6" r="1.70"/><circle cx="415.5" cy="175.9" r="1.70"/><circle cx="402.9" cy="157.0" r="1.70"/><circle cx="418.9" cy="165.0" r="1.70"/><circle cx="417.9" cy="169.1" r="1.70"/><circle cx="417.0" cy="58.3" r="1.70"/><circle cx="420.0" cy="58.3" r="1.70"/><circle cx="423.0" cy="58.3" r="1.70"/><circle cx="426.0" cy="58.3" r="1.70"/><circle cx="439.0" cy="58.3" r="1.70"/><circle cx="416.5" cy="63.0" r="1.70"/><circle cx="413.0" cy="65.9" r="1.70"/><circle cx="420.8" cy="64.4" r="1.70"/><circle cx="412.3" cy="85.5" r="1.70"/><circle cx="426.2" cy="87.7" r="1.70"/><circle cx="408.0" cy="94.1" r="1.70"/><circle cx="404.9" cy="102.8" r="1.70"/><circle cx="407.0" cy="105.0" r="1.70"/><circle cx="412.0" cy="105.0" r="1.70"/><circle cx="418.0" cy="104.0" r="1.70"/><circle cx="421.0" cy="102.5" r="1.70"/><circle cx="447.5" cy="105.5" r="1.70"/><circle cx="437.0" cy="110.0" r="1.70"/><circle cx="405.0" cy="115.0" r="1.70"/><circle cx="413.0" cy="114.0" r="1.70"/><circle cx="428.0" cy="120.0" r="1.70"/><circle cx="437.3" cy="127.6" r="1.70"/><circle cx="429.4" cy="130.8" r="1.70"/><circle cx="426.9" cy="135.1" r="1.70"/><circle cx="429.8" cy="151.3" r="1.70"/><circle cx="432.0" cy="145.0" r="1.70"/><circle cx="425.0" cy="152.0" r="1.70"/><circle cx="440.0" cy="160.0" r="1.70"/><circle cx="428.0" cy="165.0" r="1.70"/></g>
<polyline points="387.9,177 391.8,186 396,177" fill="none" stroke="#151515" stroke-width="1.6"/>
<rect x="387.7" y="185.3" width="8.5" height="2.6" fill="#151515"/>
<line x1="373.1" y1="111.2" x2="380.9" y2="153.6" stroke="#1a1a1a" stroke-width="0.75" />
<circle cx="373.1" cy="111.2" r="0.9" fill="#111"/>
<line x1="362.2" y1="119.9" x2="373.1" y2="169.2" stroke="#1a1a1a" stroke-width="0.75" />
<circle cx="362.2" cy="119.9" r="0.9" fill="#111"/>
<line x1="360.2" y1="133.6" x2="372.3" y2="174.4" stroke="#1a1a1a" stroke-width="0.75" />
<circle cx="360.2" cy="133.6" r="0.9" fill="#111"/>
<line x1="382.7" y1="131.5" x2="378.3" y2="143.3" stroke="#1a1a1a" stroke-width="0.75" />
<circle cx="382.7" cy="131.5" r="0.9" fill="#111"/>
<line x1="324.2" y1="152.1" x2="368.8" y2="168.3" stroke="#1a1a1a" stroke-width="0.75" />
<circle cx="324.2" cy="152.1" r="0.9" fill="#111"/>
<line x1="342.4" y1="162.2" x2="365.4" y2="164.4" stroke="#1a1a1a" stroke-width="0.75" />
<circle cx="342.4" cy="162.2" r="0.9" fill="#111"/>
<line x1="318.6" y1="167.6" x2="367.1" y2="172.7" stroke="#1a1a1a" stroke-width="0.75" />
<circle cx="318.6" cy="167.6" r="0.9" fill="#111"/>
<line x1="322.9" y1="173.6" x2="368.8" y2="177" stroke="#1a1a1a" stroke-width="0.75" />
<circle cx="322.9" cy="173.6" r="0.9" fill="#111"/>
<line x1="343.7" y1="178.4" x2="370.6" y2="181.3" stroke="#1a1a1a" stroke-width="0.75" />
<circle cx="343.7" cy="178.4" r="0.9" fill="#111"/>
<line x1="333" y1="182.8" x2="374.9" y2="184.8" stroke="#1a1a1a" stroke-width="0.75" />
<circle cx="333" cy="182.8" r="0.9" fill="#111"/>
<line x1="356.3" y1="168.3" x2="367.1" y2="171" stroke="#1a1a1a" stroke-width="0.75" />
<circle cx="356.3" cy="168.3" r="0.9" fill="#111"/>
<line x1="456.1" y1="137.7" x2="412" y2="158" stroke="#1a1a1a" stroke-width="0.75" />
<circle cx="456.1" cy="137.7" r="0.9" fill="#111"/>
<line x1="441.6" y1="148.1" x2="412" y2="162" stroke="#1a1a1a" stroke-width="0.75" />
<circle cx="441.6" cy="148.1" r="0.9" fill="#111"/>
<line x1="430" y1="158.5" x2="410" y2="165" stroke="#1a1a1a" stroke-width="0.75" />
<circle cx="430" cy="158.5" r="0.9" fill="#111"/>
<line x1="462.6" y1="157.5" x2="410" y2="172" stroke="#1a1a1a" stroke-width="0.75" />
<circle cx="462.6" cy="157.5" r="0.9" fill="#111"/>
<line x1="443.1" y1="168" x2="410" y2="176" stroke="#1a1a1a" stroke-width="0.75" />
<circle cx="443.1" cy="168" r="0.9" fill="#111"/>
<line x1="469.1" y1="167.6" x2="408" y2="178" stroke="#1a1a1a" stroke-width="0.75" />
<circle cx="469.1" cy="167.6" r="0.9" fill="#111"/>
<line x1="424" y1="177" x2="405" y2="181" stroke="#1a1a1a" stroke-width="0.75" />
<circle cx="424" cy="177" r="0.9" fill="#111"/>
<line x1="469.8" y1="178.4" x2="405" y2="183" stroke="#1a1a1a" stroke-width="0.75" />
<circle cx="469.8" cy="178.4" r="0.9" fill="#111"/>
<line x1="448.1" y1="182" x2="405" y2="185" stroke="#1a1a1a" stroke-width="0.75" />
<circle cx="448.1" cy="182" r="0.9" fill="#111"/>
<line x1="291.5" y1="48" x2="291.5" y2="194" stroke="#222" stroke-width="1.1" />
<line x1="291.5" y1="194" x2="492.5" y2="194" stroke="#222" stroke-width="1.1" />
<text x="262" y="261.2" font-size="9.2" text-anchor="middle" fill="#222" font-weight="normal" font-style="normal" textLength="260" lengthAdjust="spacingAndGlyphs" >Enriched Pathways in N-motif-positive versus -negative Tumor Cells</text>
<text x="195.8" y="279.1625" font-size="7.1" text-anchor="end" fill="#333" font-weight="normal" font-style="normal" >Glycolysis</text>
<line x1="198" y1="276.6625" x2="201" y2="276.6625" stroke="#222" stroke-width="0.9" />
<rect x="206.0" y="270.6" width="35.375" height="12.125" fill="#9c1616" stroke="#3a2a1a" stroke-width="0.5" />
<text x="223.6875" y="279.5625" font-size="7.2" text-anchor="middle" fill="#2a1a10" font-weight="normal" font-style="normal" >****</text>
<rect x="241.375" y="270.6" width="35.375" height="12.125" fill="#d0907e" stroke="#3a2a1a" stroke-width="0.5" />
<text x="259.0625" y="279.5625" font-size="7.2" text-anchor="middle" fill="#2a1a10" font-weight="normal" font-style="normal" >****</text>
<rect x="276.75" y="270.6" width="35.375" height="12.125" fill="#f6eedb" stroke="#3a2a1a" stroke-width="0.5" />
<text x="294.4375" y="279.5625" font-size="7.2" text-anchor="middle" fill="#2a1a10" font-weight="normal" font-style="normal" >****</text>
<rect x="312.125" y="270.6" width="35.375" height="12.125" fill="#fdd30a" stroke="#3a2a1a" stroke-width="0.5" />
<text x="329.8125" y="279.5625" font-size="7.2" text-anchor="middle" fill="#2a1a10" font-weight="normal" font-style="normal" >****</text>
<text x="195.8" y="291.2875" font-size="7.1" text-anchor="end" fill="#333" font-weight="normal" font-style="normal" >Oxidative phosphorylation</text>
<line x1="198" y1="288.7875" x2="201" y2="288.7875" stroke="#222" stroke-width="0.9" />
<rect x="206.0" y="282.725" width="35.375" height="12.125" fill="#e2ae98" stroke="#3a2a1a" stroke-width="0.5" />
<text x="223.6875" y="291.6875" font-size="7.2" text-anchor="middle" fill="#2a1a10" font-weight="normal" font-style="normal" >****</text>
<rect x="241.375" y="282.725" width="35.375" height="12.125" fill="#9c1616" stroke="#3a2a1a" stroke-width="0.5" />
<text x="259.0625" y="291.6875" font-size="7.2" text-anchor="middle" fill="#2a1a10" font-weight="normal" font-style="normal" >****</text>
<rect x="276.75" y="282.725" width="35.375" height="12.125" fill="#fdd30a" stroke="#3a2a1a" stroke-width="0.5" />
<text x="294.4375" y="291.6875" font-size="7.2" text-anchor="middle" fill="#2a1a10" font-weight="normal" font-style="normal" >****</text>
<rect x="312.125" y="282.725" width="35.375" height="12.125" fill="#fde182" stroke="#3a2a1a" stroke-width="0.5" />
<text x="329.8125" y="291.6875" font-size="7.2" text-anchor="middle" fill="#2a1a10" font-weight="normal" font-style="normal" >****</text>
<text x="195.8" y="303.4125" font-size="7.1" text-anchor="end" fill="#333" font-weight="normal" font-style="normal" >Fatty acic metabolism</text>
<line x1="198" y1="300.9125" x2="201" y2="300.9125" stroke="#222" stroke-width="0.9" />
<rect x="206.0" y="294.85" width="35.375" height="12.125" fill="#e8c1aa" stroke="#3a2a1a" stroke-width="0.5" />
<text x="223.6875" y="303.8125" font-size="7.2" text-anchor="middle" fill="#2a1a10" font-weight="normal" font-style="normal" >***</text>
<rect x="241.375" y="294.85" width="35.375" height="12.125" fill="#9c1616" stroke="#3a2a1a" stroke-width="0.5" />
<text x="259.0625" y="303.8125" font-size="7.2" text-anchor="middle" fill="#2a1a10" font-weight="normal" font-style="normal" >****</text>
<rect x="276.75" y="294.85" width="35.375" height="12.125" fill="#fde182" stroke="#3a2a1a" stroke-width="0.5" />
<text x="294.4375" y="303.8125" font-size="7.2" text-anchor="middle" fill="#2a1a10" font-weight="normal" font-style="normal" >***</text>
<rect x="312.125" y="294.85" width="35.375" height="12.125" fill="#fdd30a" stroke="#3a2a1a" stroke-width="0.5" />
<text x="329.8125" y="303.8125" font-size="7.2" text-anchor="middle" fill="#2a1a10" font-weight="normal" font-style="normal" >****</text>
<text x="195.8" y="315.5375" font-size="7.1" text-anchor="end" fill="#333" font-weight="normal" font-style="normal" >Angiogenesis</text>
<line x1="198" y1="313.0375" x2="201" y2="313.0375" stroke="#222" stroke-width="0.9" />
<rect x="206.0" y="306.975" width="35.375" height="12.125" fill="#b94f40" stroke="#3a2a1a" stroke-width="0.5" />
<text x="223.6875" y="315.9375" font-size="7.2" text-anchor="middle" fill="#2a1a10" font-weight="normal" font-style="normal" >**</text>
<rect x="241.375" y="306.975" width="35.375" height="12.125" fill="#b94f40" stroke="#3a2a1a" stroke-width="0.5" />
<text x="259.0625" y="315.9375" font-size="7.2" text-anchor="middle" fill="#2a1a10" font-weight="normal" font-style="normal" >*</text>
<rect x="276.75" y="306.975" width="35.375" height="12.125" fill="#fcf0c6" stroke="#3a2a1a" stroke-width="0.5" />
<text x="294.4375" y="315.9375" font-size="7.2" text-anchor="middle" fill="#2a1a10" font-weight="normal" font-style="normal" >**</text>
<rect x="312.125" y="306.975" width="35.375" height="12.125" fill="#fdd30a" stroke="#3a2a1a" stroke-width="0.5" />
<text x="329.8125" y="315.9375" font-size="7.2" text-anchor="middle" fill="#2a1a10" font-weight="normal" font-style="normal" >*</text>
<text x="195.8" y="327.6625" font-size="7.1" text-anchor="end" fill="#333" font-weight="normal" font-style="normal" >DNA repair</text>
<line x1="198" y1="325.1625" x2="201" y2="325.1625" stroke="#222" stroke-width="0.9" />
<rect x="206.0" y="319.1" width="35.375" height="12.125" fill="#9c1616" stroke="#3a2a1a" stroke-width="0.5" />
<text x="223.6875" y="328.0625" font-size="7.2" text-anchor="middle" fill="#2a1a10" font-weight="normal" font-style="normal" >**</text>
<rect x="241.375" y="319.1" width="35.375" height="12.125" fill="#f2e7d7" stroke="#3a2a1a" stroke-width="0.5" />
<text x="259.0625" y="328.0625" font-size="7.2" text-anchor="middle" fill="#2a1a10" font-weight="normal" font-style="normal" >**</text>
<rect x="276.75" y="319.1" width="35.375" height="12.125" fill="#f4ecda" stroke="#3a2a1a" stroke-width="0.5" />
<text x="294.4375" y="328.0625" font-size="7.2" text-anchor="middle" fill="#2a1a10" font-weight="normal" font-style="normal" >**</text>
<rect x="312.125" y="319.1" width="35.375" height="12.125" fill="#fdd30a" stroke="#3a2a1a" stroke-width="0.5" />
<text x="329.8125" y="328.0625" font-size="7.2" text-anchor="middle" fill="#2a1a10" font-weight="normal" font-style="normal" >**</text>
<text x="195.8" y="339.7875" font-size="7.1" text-anchor="end" fill="#333" font-weight="normal" font-style="normal" >MTORC1 signaling</text>
<line x1="198" y1="337.2875" x2="201" y2="337.2875" stroke="#222" stroke-width="0.9" />
<rect x="206.0" y="331.225" width="35.375" height="12.125" fill="#c77d6b" stroke="#3a2a1a" stroke-width="0.5" />
<text x="223.6875" y="340.1875" font-size="7.2" text-anchor="middle" fill="#2a1a10" font-weight="normal" font-style="normal" >****</text>
<rect x="241.375" y="331.225" width="35.375" height="12.125" fill="#9c1616" stroke="#3a2a1a" stroke-width="0.5" />
<text x="259.0625" y="340.1875" font-size="7.2" text-anchor="middle" fill="#2a1a10" font-weight="normal" font-style="normal" >****</text>
<rect x="276.75" y="331.225" width="35.375" height="12.125" fill="#fdd30a" stroke="#3a2a1a" stroke-width="0.5" />
<text x="294.4375" y="340.1875" font-size="7.2" text-anchor="middle" fill="#2a1a10" font-weight="normal" font-style="normal" >****</text>
<rect x="312.125" y="331.225" width="35.375" height="12.125" fill="#fdd30a" stroke="#3a2a1a" stroke-width="0.5" />
<text x="329.8125" y="340.1875" font-size="7.2" text-anchor="middle" fill="#2a1a10" font-weight="normal" font-style="normal" >****</text>
<text x="195.8" y="351.9125" font-size="7.1" text-anchor="end" fill="#333" font-weight="normal" font-style="normal" >Cholesterol Homeostatis</text>
<line x1="198" y1="349.4125" x2="201" y2="349.4125" stroke="#222" stroke-width="0.9" />
<rect x="206.0" y="343.35" width="35.375" height="12.125" fill="#fddf5e" stroke="#3a2a1a" stroke-width="0.5" />
<text x="223.6875" y="352.3125" font-size="7.2" text-anchor="middle" fill="#2a1a10" font-weight="normal" font-style="normal" >*</text>
<rect x="241.375" y="343.35" width="35.375" height="12.125" fill="#9c1616" stroke="#3a2a1a" stroke-width="0.5" />
<text x="259.0625" y="352.3125" font-size="7.2" text-anchor="middle" fill="#2a1a10" font-weight="normal" font-style="normal" >***</text>
<rect x="276.75" y="343.35" width="35.375" height="12.125" fill="#fdd30a" stroke="#3a2a1a" stroke-width="0.5" />
<text x="294.4375" y="352.3125" font-size="7.2" text-anchor="middle" fill="#2a1a10" font-weight="normal" font-style="normal" >*</text>
<rect x="312.125" y="343.35" width="35.375" height="12.125" fill="#efe3d2" stroke="#3a2a1a" stroke-width="0.5" />
<text x="329.8125" y="352.3125" font-size="7.2" text-anchor="middle" fill="#2a1a10" font-weight="normal" font-style="normal" >***</text>
<text x="195.8" y="364.0375" font-size="7.1" text-anchor="end" fill="#333" font-weight="normal" font-style="normal" >IFNγ response</text>
<line x1="198" y1="361.5375" x2="201" y2="361.5375" stroke="#222" stroke-width="0.9" />
<rect x="206.0" y="355.475" width="35.375" height="12.125" fill="#c98472" stroke="#3a2a1a" stroke-width="0.5" />
<text x="223.6875" y="364.4375" font-size="7.2" text-anchor="middle" fill="#2a1a10" font-weight="normal" font-style="normal" >**</text>
<rect x="241.375" y="355.475" width="35.375" height="12.125" fill="#fdf3d0" stroke="#3a2a1a" stroke-width="0.5" />
<text x="259.0625" y="364.4375" font-size="7.2" text-anchor="middle" fill="#2a1a10" font-weight="normal" font-style="normal" >*</text>
<rect x="276.75" y="355.475" width="35.375" height="12.125" fill="#9c1616" stroke="#3a2a1a" stroke-width="0.5" />
<text x="294.4375" y="364.4375" font-size="7.2" text-anchor="middle" fill="#2a1a10" font-weight="normal" font-style="normal" >**</text>
<rect x="312.125" y="355.475" width="35.375" height="12.125" fill="#fdd30a" stroke="#3a2a1a" stroke-width="0.5" />
<text x="329.8125" y="364.4375" font-size="7.2" text-anchor="middle" fill="#2a1a10" font-weight="normal" font-style="normal" >*</text>
<text x="195.8" y="376.1625" font-size="7.1" text-anchor="end" fill="#333" font-weight="normal" font-style="normal" >Inflammatory response</text>
<line x1="198" y1="373.6625" x2="201" y2="373.6625" stroke="#222" stroke-width="0.9" />
<rect x="206.0" y="367.6" width="35.375" height="12.125" fill="#fdd30a" stroke="#3a2a1a" stroke-width="0.5" />
<text x="223.6875" y="376.5625" font-size="7.2" text-anchor="middle" fill="#2a1a10" font-weight="normal" font-style="normal" >**</text>
<rect x="241.375" y="367.6" width="35.375" height="12.125" fill="#fdf5e0" stroke="#3a2a1a" stroke-width="0.5" />
<text x="259.0625" y="376.5625" font-size="7.2" text-anchor="middle" fill="#2a1a10" font-weight="normal" font-style="normal" >*</text>
<rect x="276.75" y="367.6" width="35.375" height="12.125" fill="#fbf6e8" stroke="#3a2a1a" stroke-width="0.5" />
<text x="294.4375" y="376.5625" font-size="7.2" text-anchor="middle" fill="#2a1a10" font-weight="normal" font-style="normal" >**</text>
<rect x="312.125" y="367.6" width="35.375" height="12.125" fill="#9c1616" stroke="#3a2a1a" stroke-width="0.5" />
<text x="329.8125" y="376.5625" font-size="7.2" text-anchor="middle" fill="#2a1a10" font-weight="normal" font-style="normal" >*</text>
<text x="195.8" y="388.2875" font-size="7.1" text-anchor="end" fill="#333" font-weight="normal" font-style="normal" >TGFβ signaling</text>
<line x1="198" y1="385.7875" x2="201" y2="385.7875" stroke="#222" stroke-width="0.9" />
<rect x="206.0" y="379.725" width="35.375" height="12.125" fill="#fdd30a" stroke="#3a2a1a" stroke-width="0.5" />
<text x="223.6875" y="388.6875" font-size="7.2" text-anchor="middle" fill="#2a1a10" font-weight="normal" font-style="normal" >****</text>
<rect x="241.375" y="379.725" width="35.375" height="12.125" fill="#fdf2d0" stroke="#3a2a1a" stroke-width="0.5" />
<text x="259.0625" y="388.6875" font-size="7.2" text-anchor="middle" fill="#2a1a10" font-weight="normal" font-style="normal" >*</text>
<rect x="276.75" y="379.725" width="35.375" height="12.125" fill="#b94f40" stroke="#3a2a1a" stroke-width="0.5" />
<text x="294.4375" y="388.6875" font-size="7.2" text-anchor="middle" fill="#2a1a10" font-weight="normal" font-style="normal" >****</text>
<rect x="312.125" y="379.725" width="35.375" height="12.125" fill="#b75545" stroke="#3a2a1a" stroke-width="0.5" />
<text x="329.8125" y="388.6875" font-size="7.2" text-anchor="middle" fill="#2a1a10" font-weight="normal" font-style="normal" >*</text>
<text x="195.8" y="400.4125" font-size="7.1" text-anchor="end" fill="#333" font-weight="normal" font-style="normal" >TNFA signaling</text>
<line x1="198" y1="397.9125" x2="201" y2="397.9125" stroke="#222" stroke-width="0.9" />
<rect x="206.0" y="391.85" width="35.375" height="12.125" fill="#fdd30a" stroke="#3a2a1a" stroke-width="0.5" />
<text x="223.6875" y="400.8125" font-size="7.2" text-anchor="middle" fill="#2a1a10" font-weight="normal" font-style="normal" >****</text>
<rect x="241.375" y="391.85" width="35.375" height="12.125" fill="#d0907e" stroke="#3a2a1a" stroke-width="0.5" />
<text x="259.0625" y="400.8125" font-size="7.2" text-anchor="middle" fill="#2a1a10" font-weight="normal" font-style="normal" >*</text>
<rect x="276.75" y="391.85" width="35.375" height="12.125" fill="#dfae9a" stroke="#3a2a1a" stroke-width="0.5" />
<text x="294.4375" y="400.8125" font-size="7.2" text-anchor="middle" fill="#2a1a10" font-weight="normal" font-style="normal" >****</text>
<rect x="312.125" y="391.85" width="35.375" height="12.125" fill="#b24a3c" stroke="#3a2a1a" stroke-width="0.5" />
<text x="329.8125" y="400.8125" font-size="7.2" text-anchor="middle" fill="#2a1a10" font-weight="normal" font-style="normal" >*</text>
<text x="195.8" y="412.5375" font-size="7.1" text-anchor="end" fill="#333" font-weight="normal" font-style="normal" >BCR pathway</text>
<line x1="198" y1="410.0375" x2="201" y2="410.0375" stroke="#222" stroke-width="0.9" />
<rect x="206.0" y="403.975" width="35.375" height="12.125" fill="#fde6a0" stroke="#3a2a1a" stroke-width="0.5" />
<text x="223.6875" y="412.9375" font-size="7.2" text-anchor="middle" fill="#2a1a10" font-weight="normal" font-style="normal" >****</text>
<rect x="241.375" y="403.975" width="35.375" height="12.125" fill="#fdd30a" stroke="#3a2a1a" stroke-width="0.5" />
<text x="259.0625" y="412.9375" font-size="7.2" text-anchor="middle" fill="#2a1a10" font-weight="normal" font-style="normal" >****</text>
<rect x="276.75" y="403.975" width="35.375" height="12.125" fill="#9c1616" stroke="#3a2a1a" stroke-width="0.5" />
<text x="294.4375" y="412.9375" font-size="7.2" text-anchor="middle" fill="#2a1a10" font-weight="normal" font-style="normal" >*****</text>
<rect x="312.125" y="403.975" width="35.375" height="12.125" fill="#d0907e" stroke="#3a2a1a" stroke-width="0.5" />
<text x="329.8125" y="412.9375" font-size="7.2" text-anchor="middle" fill="#2a1a10" font-weight="normal" font-style="normal" >****</text>
<line x1="202.7" y1="269" x2="202.7" y2="418" stroke="#222" stroke-width="1.1" />
<line x1="202.7" y1="417.6" x2="350.7" y2="417.6" stroke="#222" stroke-width="1.1" />
<line x1="223.6875" y1="417.6" x2="223.6875" y2="420.5" stroke="#222" stroke-width="0.9" />
<text x="223.6875" y="429.4" font-size="7.2" text-anchor="middle" fill="#333" font-weight="normal" font-style="normal" >Pt 04 T0</text>
<line x1="259.0625" y1="417.6" x2="259.0625" y2="420.5" stroke="#222" stroke-width="0.9" />
<text x="259.0625" y="429.4" font-size="7.2" text-anchor="middle" fill="#333" font-weight="normal" font-style="normal" >Pt 07 T0</text>
<line x1="294.4375" y1="417.6" x2="294.4375" y2="420.5" stroke="#222" stroke-width="0.9" />
<text x="294.4375" y="429.4" font-size="7.2" text-anchor="middle" fill="#333" font-weight="normal" font-style="normal" >Pt 04 T0</text>
<line x1="329.8125" y1="417.6" x2="329.8125" y2="420.5" stroke="#222" stroke-width="0.9" />
<text x="329.8125" y="429.4" font-size="7.2" text-anchor="middle" fill="#333" font-weight="normal" font-style="normal" >Pt 07 T0</text>
<line x1="214.2" y1="434.5" x2="268.5" y2="434.5" stroke="#333" stroke-width="0.9" />
<line x1="285" y1="434.5" x2="339.8" y2="434.5" stroke="#333" stroke-width="0.9" />
<text x="241.4" y="445.7" font-size="8.2" text-anchor="middle" fill="#333" font-weight="normal" font-style="normal" textLength="53.6" lengthAdjust="spacingAndGlyphs" >N-motif-negative</text>
<text x="241.4" y="456" font-size="8.6" text-anchor="middle" fill="#333" font-weight="normal" font-style="normal" textLength="35" lengthAdjust="spacingAndGlyphs" >tumor cells</text>
<text x="312.1" y="445.7" font-size="8.2" text-anchor="middle" fill="#333" font-weight="normal" font-style="normal" textLength="51" lengthAdjust="spacingAndGlyphs" >N-motif-positive</text>
<text x="312.1" y="456" font-size="8.6" text-anchor="middle" fill="#333" font-weight="normal" font-style="normal" textLength="35" lengthAdjust="spacingAndGlyphs" >tumor cells</text>
<text x="359.8" y="339.2" font-size="7.4" text-anchor="start" fill="#333" font-weight="normal" font-style="normal" textLength="85.6" lengthAdjust="spacingAndGlyphs" >Avgerage expression scaled</text>
<defs><linearGradient id="lg" x1="0" y1="0" x2="0" y2="1"><stop offset="0" stop-color="#8a1515"/><stop offset="0.25" stop-color="#b8685a"/><stop offset="0.52" stop-color="#f8f2ea"/><stop offset="0.78" stop-color="#fde7a0"/><stop offset="1" stop-color="#f9cc10"/></linearGradient></defs>
<rect x="360" y="342.5" width="8.5" height="40" fill="url(#lg)" stroke="none" stroke-width="1" />
<text x="372" y="355.3" font-size="7.4" text-anchor="start" fill="#333" font-weight="normal" font-style="normal" >0.5</text>
<text x="372" y="366.5" font-size="7.4" text-anchor="start" fill="#333" font-weight="normal" font-style="normal" >0.0</text>
<text x="372.7" y="377" font-size="7.4" text-anchor="start" fill="#333" font-weight="normal" font-style="normal" >−0.5</text>
<text x="292.8" y="498.5" font-size="9.2" text-anchor="middle" fill="#222" font-weight="normal" font-style="normal" textLength="238.5" lengthAdjust="spacingAndGlyphs" >Single Cell cDNA-based Detection of Lymphoma Mutations in</text>
<text x="291" y="508.9" font-size="9.2" text-anchor="middle" fill="#222" font-weight="normal" font-style="normal" textLength="175.4" lengthAdjust="spacingAndGlyphs" >N-motif-positive versus -negative Tumor Cells</text>
<rect x="188.5" y="517.2" width="108.4" height="30.5" fill="#c6b4cf" stroke="none" stroke-width="1" />
<rect x="296.9" y="517.2" width="107.7" height="30.5" fill="#f0c3b8" stroke="none" stroke-width="1" />
<rect x="404.6" y="517.2" width="108" height="30.5" fill="#b9bdd8" stroke="none" stroke-width="1" />
<line x1="48" y1="517.2" x2="512.6" y2="517.2" stroke="#222" stroke-width="1" />
<line x1="48" y1="547.7" x2="512.6" y2="547.7" stroke="#222" stroke-width="1" />
<line x1="48" y1="517.2" x2="48" y2="577" stroke="#222" stroke-width="1" />
<line x1="100.8" y1="547.7" x2="100.8" y2="577" stroke="#222" stroke-width="1" />
<line x1="147.2" y1="547.7" x2="147.2" y2="577" stroke="#222" stroke-width="1" />
<line x1="188.5" y1="517.2" x2="188.5" y2="577" stroke="#222" stroke-width="1" />
<line x1="221.8" y1="547.7" x2="221.8" y2="577" stroke="#222" stroke-width="1" />
<line x1="255.1" y1="547.7" x2="255.1" y2="577" stroke="#222" stroke-width="1" />
<line x1="296.9" y1="517.2" x2="296.9" y2="577" stroke="#222" stroke-width="1" />
<line x1="330.3" y1="547.7" x2="330.3" y2="577" stroke="#222" stroke-width="1" />
<line x1="362.5" y1="547.7" x2="362.5" y2="577" stroke="#222" stroke-width="1" />
<line x1="404.6" y1="517.2" x2="404.6" y2="577" stroke="#222" stroke-width="1" />
<line x1="437.8" y1="547.7" x2="437.8" y2="577" stroke="#222" stroke-width="1" />
<line x1="470.8" y1="547.7" x2="470.8" y2="577" stroke="#222" stroke-width="1" />
<line x1="512.6" y1="517.2" x2="512.6" y2="577" stroke="#222" stroke-width="1" />
<line x1="22" y1="577" x2="512.6" y2="577" stroke="#222" stroke-width="1.2" />
<line x1="47.3" y1="587.3" x2="512.6" y2="587.3" stroke="#222" stroke-width="1" />
<line x1="47.3" y1="600.3" x2="512.6" y2="600.3" stroke="#222" stroke-width="1" />
<line x1="47.3" y1="611.3" x2="512.6" y2="611.3" stroke="#222" stroke-width="1" />
<line x1="47.3" y1="622.4" x2="512.6" y2="622.4" stroke="#222" stroke-width="1" />
<line x1="47.3" y1="634.5" x2="512.6" y2="634.5" stroke="#222" stroke-width="1" />
<line x1="22" y1="645.9" x2="512.6" y2="645.9" stroke="#222" stroke-width="1" />
<line x1="22" y1="657.3" x2="512.6" y2="657.3" stroke="#222" stroke-width="1" />
<line x1="47.3" y1="668" x2="512.6" y2="668" stroke="#222" stroke-width="1" />
<line x1="47.3" y1="680.4" x2="512.6" y2="680.4" stroke="#222" stroke-width="1" />
<line x1="22" y1="702.6" x2="512.6" y2="702.6" stroke="#222" stroke-width="1" />
<line x1="22" y1="577" x2="22" y2="702.6" stroke="#222" stroke-width="1" />
<line x1="512.6" y1="577" x2="512.6" y2="702.6" stroke="#222" stroke-width="1" />
<line x1="47.3" y1="577" x2="47.3" y2="645.9" stroke="#222" stroke-width="1" />
<line x1="47.3" y1="657.3" x2="47.3" y2="702.6" stroke="#222" stroke-width="1" />
<line x1="100.8" y1="577" x2="100.8" y2="645.9" stroke="#222" stroke-width="1" />
<line x1="100.8" y1="657.3" x2="100.8" y2="702.6" stroke="#222" stroke-width="1" />
<line x1="147.2" y1="577" x2="147.2" y2="645.9" stroke="#222" stroke-width="1" />
<line x1="147.2" y1="657.3" x2="147.2" y2="702.6" stroke="#222" stroke-width="1" />
<line x1="188.5" y1="577" x2="188.5" y2="645.9" stroke="#222" stroke-width="1" />
<line x1="188.5" y1="657.3" x2="188.5" y2="702.6" stroke="#222" stroke-width="1" />
<line x1="221.8" y1="577" x2="221.8" y2="645.9" stroke="#222" stroke-width="1" />
<line x1="221.8" y1="657.3" x2="221.8" y2="702.6" stroke="#222" stroke-width="1" />
<line x1="255.1" y1="577" x2="255.1" y2="645.9" stroke="#222" stroke-width="1" />
<line x1="255.1" y1="657.3" x2="255.1" y2="702.6" stroke="#222" stroke-width="1" />
<line x1="296.9" y1="577" x2="296.9" y2="645.9" stroke="#222" stroke-width="1" />
<line x1="296.9" y1="657.3" x2="296.9" y2="702.6" stroke="#222" stroke-width="1" />
<line x1="330.3" y1="577" x2="330.3" y2="645.9" stroke="#222" stroke-width="1" />
<line x1="330.3" y1="657.3" x2="330.3" y2="702.6" stroke="#222" stroke-width="1" />
<line x1="362.5" y1="577" x2="362.5" y2="645.9" stroke="#222" stroke-width="1" />
<line x1="362.5" y1="657.3" x2="362.5" y2="702.6" stroke="#222" stroke-width="1" />
<line x1="404.6" y1="577" x2="404.6" y2="645.9" stroke="#222" stroke-width="1" />
<line x1="404.6" y1="657.3" x2="404.6" y2="702.6" stroke="#222" stroke-width="1" />
<line x1="437.8" y1="577" x2="437.8" y2="645.9" stroke="#222" stroke-width="1" />
<line x1="437.8" y1="657.3" x2="437.8" y2="702.6" stroke="#222" stroke-width="1" />
<line x1="470.8" y1="577" x2="470.8" y2="645.9" stroke="#222" stroke-width="1" />
<line x1="470.8" y1="657.3" x2="470.8" y2="702.6" stroke="#222" stroke-width="1" />
<text x="118.5" y="534.8" font-size="7.3" text-anchor="middle" fill="#333" font-weight="normal" font-style="normal" >Mutation details</text>
<text x="242.7" y="530.9" font-size="7.3" text-anchor="middle" fill="#74408a" font-weight="normal" font-style="normal" >N-motif-positive</text>
<text x="242.7" y="538.7" font-size="7.3" text-anchor="middle" fill="#74408a" font-weight="normal" font-style="normal" >tumor cells</text>
<text x="350.7" y="530.9" font-size="7.3" text-anchor="middle" fill="#d0384a" font-weight="normal" font-style="normal" >N-motif-negative</text>
<text x="350.7" y="538.7" font-size="7.3" text-anchor="middle" fill="#d0384a" font-weight="normal" font-style="normal" >tumor cells</text>
<text x="458.7" y="535" font-size="7.3" text-anchor="middle" fill="#4a6aa0" font-weight="normal" font-style="normal" >T-cells</text>
<text x="74.4" y="564.4" font-size="7.3" text-anchor="middle" fill="#333" font-weight="normal" font-style="normal" >Gene</text>
<text x="124.0" y="560.4" font-size="7.3" text-anchor="middle" fill="#333" font-weight="normal" font-style="normal" >CDS</text>
<text x="124.0" y="568.5" font-size="7.3" text-anchor="middle" fill="#333" font-weight="normal" font-style="normal" >Change</text>
<text x="167.85" y="560.4" font-size="7.3" text-anchor="middle" fill="#333" font-weight="normal" font-style="normal" >AA</text>
<text x="167.85" y="568.5" font-size="7.3" text-anchor="middle" fill="#333" font-weight="normal" font-style="normal" >Change</text>
<text x="205.15" y="564.4" font-size="7.3" text-anchor="middle" fill="#7a3a8a" font-weight="normal" font-style="normal" >all cells</text>
<text x="238.45" y="560.4" font-size="7.3" text-anchor="middle" fill="#7a3a8a" font-weight="normal" font-style="normal" >mutated</text>
<text x="238.45" y="568.5" font-size="7.3" text-anchor="middle" fill="#7a3a8a" font-weight="normal" font-style="normal" >cells</text>
<text x="276.0" y="560.4" font-size="7.3" text-anchor="middle" fill="#7a3a8a" font-weight="normal" font-style="normal" >mutation</text>
<text x="276.0" y="568.5" font-size="7.3" text-anchor="middle" fill="#7a3a8a" font-weight="normal" font-style="normal" >rate</text>
<text x="313.6" y="564.4" font-size="7.3" text-anchor="middle" fill="#d0384a" font-weight="normal" font-style="normal" >all cells</text>
<text x="346.4" y="560.4" font-size="7.3" text-anchor="middle" fill="#d0384a" font-weight="normal" font-style="normal" >mutated</text>
<text x="346.4" y="568.5" font-size="7.3" text-anchor="middle" fill="#d0384a" font-weight="normal" font-style="normal" >cells</text>
<text x="383.55" y="560.4" font-size="7.3" text-anchor="middle" fill="#d0384a" font-weight="normal" font-style="normal" >mutation</text>
<text x="383.55" y="568.5" font-size="7.3" text-anchor="middle" fill="#d0384a" font-weight="normal" font-style="normal" >rate</text>
<text x="421.20000000000005" y="564.4" font-size="7.3" text-anchor="middle" fill="#4a6aa0" font-weight="normal" font-style="normal" >all cells</text>
<text x="454.3" y="560.4" font-size="7.3" text-anchor="middle" fill="#4a6aa0" font-weight="normal" font-style="normal" >mutated</text>
<text x="454.3" y="568.5" font-size="7.3" text-anchor="middle" fill="#4a6aa0" font-weight="normal" font-style="normal" >cells</text>
<text x="491.70000000000005" y="560.4" font-size="7.3" text-anchor="middle" fill="#4a6aa0" font-weight="normal" font-style="normal" >mutation</text>
<text x="491.70000000000005" y="568.5" font-size="7.3" text-anchor="middle" fill="#4a6aa0" font-weight="normal" font-style="normal" >rate</text>
<text x="74.4" y="584.65" font-size="7.3" text-anchor="middle" fill="#222" font-weight="normal" font-style="italic" >EP300</text>
<text x="124.0" y="584.65" font-size="7.3" text-anchor="middle" fill="#222" font-weight="normal" font-style="normal" >4115G&gt;A</text>
<text x="167.85" y="584.65" font-size="7.3" text-anchor="middle" fill="#222" font-weight="normal" font-style="normal" >C1372Y</text>
<text x="205.15" y="584.65" font-size="7.3" text-anchor="middle" fill="#222" font-weight="normal" font-style="normal" >255</text>
<text x="238.45" y="584.65" font-size="7.3" text-anchor="middle" fill="#222" font-weight="normal" font-style="normal" >127</text>
<text x="276.0" y="584.65" font-size="7.3" text-anchor="middle" fill="#222" font-weight="normal" font-style="normal" >50%</text>
<text x="313.6" y="584.65" font-size="7.3" text-anchor="middle" fill="#222" font-weight="normal" font-style="normal" >78</text>
<text x="346.4" y="584.65" font-size="7.3" text-anchor="middle" fill="#222" font-weight="normal" font-style="normal" >42</text>
<text x="383.55" y="584.65" font-size="7.3" text-anchor="middle" fill="#222" font-weight="normal" font-style="normal" >54%</text>
<text x="421.20000000000005" y="584.65" font-size="7.3" text-anchor="middle" fill="#222" font-weight="normal" font-style="normal" >22</text>
<text x="454.3" y="584.65" font-size="7.3" text-anchor="middle" fill="#222" font-weight="normal" font-style="normal" >1</text>
<text x="491.70000000000005" y="584.65" font-size="7.3" text-anchor="middle" fill="#222" font-weight="normal" font-style="normal" >5%</text>
<text x="74.4" y="596.3" font-size="7.3" text-anchor="middle" fill="#222" font-weight="normal" font-style="italic" >TNFAIP3</text>
<text x="124.0" y="596.3" font-size="7.3" text-anchor="middle" fill="#222" font-weight="normal" font-style="normal" >1939A&gt;C</text>
<text x="167.85" y="596.3" font-size="7.3" text-anchor="middle" fill="#222" font-weight="normal" font-style="normal" >T647P</text>
<text x="205.15" y="596.3" font-size="7.3" text-anchor="middle" fill="#222" font-weight="normal" font-style="normal" >118</text>
<text x="238.45" y="596.3" font-size="7.3" text-anchor="middle" fill="#222" font-weight="normal" font-style="normal" >47</text>
<text x="276.0" y="596.3" font-size="7.3" text-anchor="middle" fill="#222" font-weight="normal" font-style="normal" >40%</text>
<text x="313.6" y="596.3" font-size="7.3" text-anchor="middle" fill="#222" font-weight="normal" font-style="normal" >49</text>
<text x="346.4" y="596.3" font-size="7.3" text-anchor="middle" fill="#222" font-weight="normal" font-style="normal" >17</text>
<text x="383.55" y="596.3" font-size="7.3" text-anchor="middle" fill="#222" font-weight="normal" font-style="normal" >35%</text>
<text x="421.20000000000005" y="596.3" font-size="7.3" text-anchor="middle" fill="#222" font-weight="normal" font-style="normal" >19</text>
<text x="454.3" y="596.3" font-size="7.3" text-anchor="middle" fill="#222" font-weight="normal" font-style="normal" >0</text>
<text x="491.70000000000005" y="596.3" font-size="7.3" text-anchor="middle" fill="#222" font-weight="normal" font-style="normal" >0%</text>
<text x="74.4" y="608.3" font-size="7.3" text-anchor="middle" fill="#222" font-weight="normal" font-style="italic" >ARID1A</text>
<text x="124.0" y="608.3" font-size="7.3" text-anchor="middle" fill="#222" font-style="normal">925C&gt;T<tspan font-size="4" dy="-2.5">1</tspan></text>
<text x="167.85" y="608.3" font-size="7.3" text-anchor="middle" fill="#222" font-weight="normal" font-style="normal" >Q309X</text>
<text x="205.15" y="608.3" font-size="7.3" text-anchor="middle" fill="#222" font-weight="normal" font-style="normal" >11</text>
<text x="238.45" y="608.3" font-size="7.3" text-anchor="middle" fill="#222" font-weight="normal" font-style="normal" >4</text>
<text x="276.0" y="608.3" font-size="7.3" text-anchor="middle" fill="#222" font-weight="normal" font-style="normal" >36%</text>
<text x="313.6" y="608.3" font-size="7.3" text-anchor="middle" fill="#222" font-weight="normal" font-style="normal" >4</text>
<text x="346.4" y="608.3" font-size="7.3" text-anchor="middle" fill="#222" font-weight="normal" font-style="normal" >1</text>
<text x="383.55" y="608.3" font-size="7.3" text-anchor="middle" fill="#222" font-weight="normal" font-style="normal" >25%</text>
<text x="421.20000000000005" y="608.3" font-size="7.3" text-anchor="middle" fill="#222" font-weight="normal" font-style="normal" >0</text>
<text x="454.3" y="608.3" font-size="7.3" text-anchor="middle" fill="#222" font-weight="normal" font-style="normal" >0</text>
<text x="491.70000000000005" y="608.3" font-size="7.3" text-anchor="middle" fill="#222" font-weight="normal" font-style="normal" >0%</text>
<text x="74.4" y="619.3499999999999" font-size="7.3" text-anchor="middle" fill="#222" font-weight="normal" font-style="italic" >TNFRSF14</text>
<text x="124.0" y="619.3499999999999" font-size="7.3" text-anchor="middle" fill="#222" font-style="normal">472C&gt;T<tspan font-size="4" dy="-2.5">1</tspan></text>
<text x="167.85" y="619.3499999999999" font-size="7.3" text-anchor="middle" fill="#222" font-weight="normal" font-style="normal" >Q158X</text>
<text x="205.15" y="619.3499999999999" font-size="7.3" text-anchor="middle" fill="#222" font-weight="normal" font-style="normal" >259</text>
<text x="238.45" y="619.3499999999999" font-size="7.3" text-anchor="middle" fill="#222" font-weight="normal" font-style="normal" >2</text>
<text x="276.0" y="619.3499999999999" font-size="7.3" text-anchor="middle" fill="#222" font-weight="normal" font-style="normal" >&lt;1%</text>
<text x="313.6" y="619.3499999999999" font-size="7.3" text-anchor="middle" fill="#222" font-weight="normal" font-style="normal" >805</text>
<text x="346.4" y="619.3499999999999" font-size="7.3" text-anchor="middle" fill="#222" font-weight="normal" font-style="normal" >3</text>
<text x="383.55" y="619.3499999999999" font-size="7.3" text-anchor="middle" fill="#222" font-weight="normal" font-style="normal" >&lt;1%</text>
<text x="421.20000000000005" y="619.3499999999999" font-size="7.3" text-anchor="middle" fill="#222" font-weight="normal" font-style="normal" >228</text>
<text x="454.3" y="619.3499999999999" font-size="7.3" text-anchor="middle" fill="#222" font-weight="normal" font-style="normal" >2</text>
<text x="491.70000000000005" y="619.3499999999999" font-size="7.3" text-anchor="middle" fill="#222" font-weight="normal" font-style="normal" >&lt;1%</text>
<text x="74.4" y="630.95" font-size="7.3" text-anchor="middle" fill="#222" font-weight="normal" font-style="italic" >BCL2</text>
<text x="124.0" y="630.95" font-size="7.3" text-anchor="middle" fill="#222" font-weight="normal" font-style="normal" >592G&gt;A</text>
<text x="167.85" y="630.95" font-size="7.3" text-anchor="middle" fill="#222" font-weight="normal" font-style="normal" >A198T</text>
<text x="205.15" y="630.95" font-size="7.3" text-anchor="middle" fill="#222" font-weight="normal" font-style="normal" >651</text>
<text x="238.45" y="630.95" font-size="7.3" text-anchor="middle" fill="#222" font-weight="normal" font-style="normal" >4</text>
<text x="276.0" y="630.95" font-size="7.3" text-anchor="middle" fill="#222" font-weight="normal" font-style="normal" >&lt;1%</text>
<text x="313.6" y="630.95" font-size="7.3" text-anchor="middle" fill="#222" font-weight="normal" font-style="normal" >225</text>
<text x="346.4" y="630.95" font-size="7.3" text-anchor="middle" fill="#222" font-weight="normal" font-style="normal" >0</text>
<text x="383.55" y="630.95" font-size="7.3" text-anchor="middle" fill="#222" font-weight="normal" font-style="normal" >0%</text>
<text x="421.20000000000005" y="630.95" font-size="7.3" text-anchor="middle" fill="#222" font-weight="normal" font-style="normal" >24</text>
<text x="454.3" y="630.95" font-size="7.3" text-anchor="middle" fill="#222" font-weight="normal" font-style="normal" >0</text>
<text x="491.70000000000005" y="630.95" font-size="7.3" text-anchor="middle" fill="#222" font-weight="normal" font-style="normal" >0%</text>
<text x="74.4" y="642.7" font-size="7.3" text-anchor="middle" fill="#222" font-weight="normal" font-style="italic" >PIM1</text>
<text x="124.0" y="642.7" font-size="7.3" text-anchor="middle" fill="#222" font-weight="normal" font-style="normal" >73C&gt;G</text>
<text x="167.85" y="642.7" font-size="7.3" text-anchor="middle" fill="#222" font-weight="normal" font-style="normal" >L25V</text>
<text x="205.15" y="642.7" font-size="7.3" text-anchor="middle" fill="#222" font-weight="normal" font-style="normal" >2094</text>
<text x="238.45" y="642.7" font-size="7.3" text-anchor="middle" fill="#222" font-weight="normal" font-style="normal" >0</text>
<text x="276.0" y="642.7" font-size="7.3" text-anchor="middle" fill="#222" font-weight="normal" font-style="normal" >0%</text>
<text x="313.6" y="642.7" font-size="7.3" text-anchor="middle" fill="#222" font-weight="normal" font-style="normal" >1640</text>
<text x="346.4" y="642.7" font-size="7.3" text-anchor="middle" fill="#222" font-weight="normal" font-style="normal" >0</text>
<text x="383.55" y="642.7" font-size="7.3" text-anchor="middle" fill="#222" font-weight="normal" font-style="normal" >0%</text>
<text x="421.20000000000005" y="642.7" font-size="7.3" text-anchor="middle" fill="#222" font-weight="normal" font-style="normal" >83</text>
<text x="454.3" y="642.7" font-size="7.3" text-anchor="middle" fill="#222" font-weight="normal" font-style="normal" >0</text>
<text x="491.70000000000005" y="642.7" font-size="7.3" text-anchor="middle" fill="#222" font-weight="normal" font-style="normal" >0%</text>
<text x="74.4" y="665.15" font-size="7.3" text-anchor="middle" fill="#222" font-weight="normal" font-style="italic" >CREBBP</text>
<text x="124.0" y="665.15" font-size="7.3" text-anchor="middle" fill="#222" font-weight="normal" font-style="normal" >4304A&gt;C</text>
<text x="167.85" y="665.15" font-size="7.3" text-anchor="middle" fill="#222" font-weight="normal" font-style="normal" >D1435A</text>
<text x="205.15" y="665.15" font-size="7.3" text-anchor="middle" fill="#222" font-weight="normal" font-style="normal" >68</text>
<text x="238.45" y="665.15" font-size="7.3" text-anchor="middle" fill="#222" font-weight="normal" font-style="normal" >65</text>
<text x="276.0" y="665.15" font-size="7.3" text-anchor="middle" fill="#222" font-weight="normal" font-style="normal" >96%</text>
<text x="313.6" y="665.15" font-size="7.3" text-anchor="middle" fill="#222" font-weight="normal" font-style="normal" >11</text>
<text x="346.4" y="665.15" font-size="7.3" text-anchor="middle" fill="#222" font-weight="normal" font-style="normal" >11</text>
<text x="383.55" y="665.15" font-size="7.3" text-anchor="middle" fill="#222" font-weight="normal" font-style="normal" >100%</text>
<text x="421.20000000000005" y="665.15" font-size="7.3" text-anchor="middle" fill="#222" font-weight="normal" font-style="normal" >22</text>
<text x="454.3" y="665.15" font-size="7.3" text-anchor="middle" fill="#222" font-weight="normal" font-style="normal" >0</text>
<text x="491.70000000000005" y="665.15" font-size="7.3" text-anchor="middle" fill="#222" font-weight="normal" font-style="normal" >0%</text>
<text x="74.4" y="676.7" font-size="7.3" text-anchor="middle" fill="#222" font-weight="normal" font-style="italic" >STAT6</text>
<text x="124.0" y="676.7" font-size="7.3" text-anchor="middle" fill="#222" font-weight="normal" font-style="normal" >856C&gt;A</text>
<text x="167.85" y="676.7" font-size="7.3" text-anchor="middle" fill="#222" font-weight="normal" font-style="normal" >Q286K</text>
<text x="205.15" y="676.7" font-size="7.3" text-anchor="middle" fill="#222" font-weight="normal" font-style="normal" >303</text>
<text x="238.45" y="676.7" font-size="7.3" text-anchor="middle" fill="#222" font-weight="normal" font-style="normal" >0</text>
<text x="276.0" y="676.7" font-size="7.3" text-anchor="middle" fill="#222" font-weight="normal" font-style="normal" >0%</text>
<text x="313.6" y="676.7" font-size="7.3" text-anchor="middle" fill="#222" font-weight="normal" font-style="normal" >76</text>
<text x="346.4" y="676.7" font-size="7.3" text-anchor="middle" fill="#222" font-weight="normal" font-style="normal" >0</text>
<text x="383.55" y="676.7" font-size="7.3" text-anchor="middle" fill="#222" font-weight="normal" font-style="normal" >0%</text>
<text x="421.20000000000005" y="676.7" font-size="7.3" text-anchor="middle" fill="#222" font-weight="normal" font-style="normal" >56</text>
<text x="454.3" y="676.7" font-size="7.3" text-anchor="middle" fill="#222" font-weight="normal" font-style="normal" >0</text>
<text x="491.70000000000005" y="676.7" font-size="7.3" text-anchor="middle" fill="#222" font-weight="normal" font-style="normal" >0%</text>
<text x="74.4" y="694.0" font-size="7.3" text-anchor="middle" fill="#222" font-weight="normal" font-style="italic" >IRF8</text>
<text x="124.0" y="689.3" font-size="7.3" text-anchor="middle" fill="#222" font-weight="normal" font-style="normal" >1265_</text>
<text x="124.0" y="697.3" font-size="7.3" text-anchor="middle" fill="#222" font-style="normal">1271del<tspan font-size="4" dy="-2.5">1</tspan></text>
<text x="167.85" y="694.0" font-size="7.3" text-anchor="middle" fill="#222" font-weight="normal" font-style="normal" >Q422_fs</text>
<text x="205.15" y="694.0" font-size="7.3" text-anchor="middle" fill="#222" font-weight="normal" font-style="normal" >1228</text>
<text x="238.45" y="694.0" font-size="7.3" text-anchor="middle" fill="#222" font-weight="normal" font-style="normal" >3</text>
<text x="276.0" y="694.0" font-size="7.3" text-anchor="middle" fill="#222" font-weight="normal" font-style="normal" >&lt;1%</text>
<text x="313.6" y="694.0" font-size="7.3" text-anchor="middle" fill="#222" font-weight="normal" font-style="normal" >224</text>
<text x="346.4" y="694.0" font-size="7.3" text-anchor="middle" fill="#222" font-weight="normal" font-style="normal" >0</text>
<text x="383.55" y="694.0" font-size="7.3" text-anchor="middle" fill="#222" font-weight="normal" font-style="normal" >0%</text>
<text x="421.20000000000005" y="694.0" font-size="7.3" text-anchor="middle" fill="#222" font-weight="normal" font-style="normal" >27</text>
<text x="454.3" y="694.0" font-size="7.3" text-anchor="middle" fill="#222" font-weight="normal" font-style="normal" >0</text>
<text x="491.70000000000005" y="694.0" font-size="7.3" text-anchor="middle" fill="#222" font-weight="normal" font-style="normal" >0%</text>
<text transform="translate(37.5,611.4) rotate(-90)" font-size="7.2" text-anchor="middle" fill="#333">Patient 04</text>
<text transform="translate(37.5,680) rotate(-90)" font-size="7.2" text-anchor="middle" fill="#333">Patient 07</text>
</svg></body></html>
